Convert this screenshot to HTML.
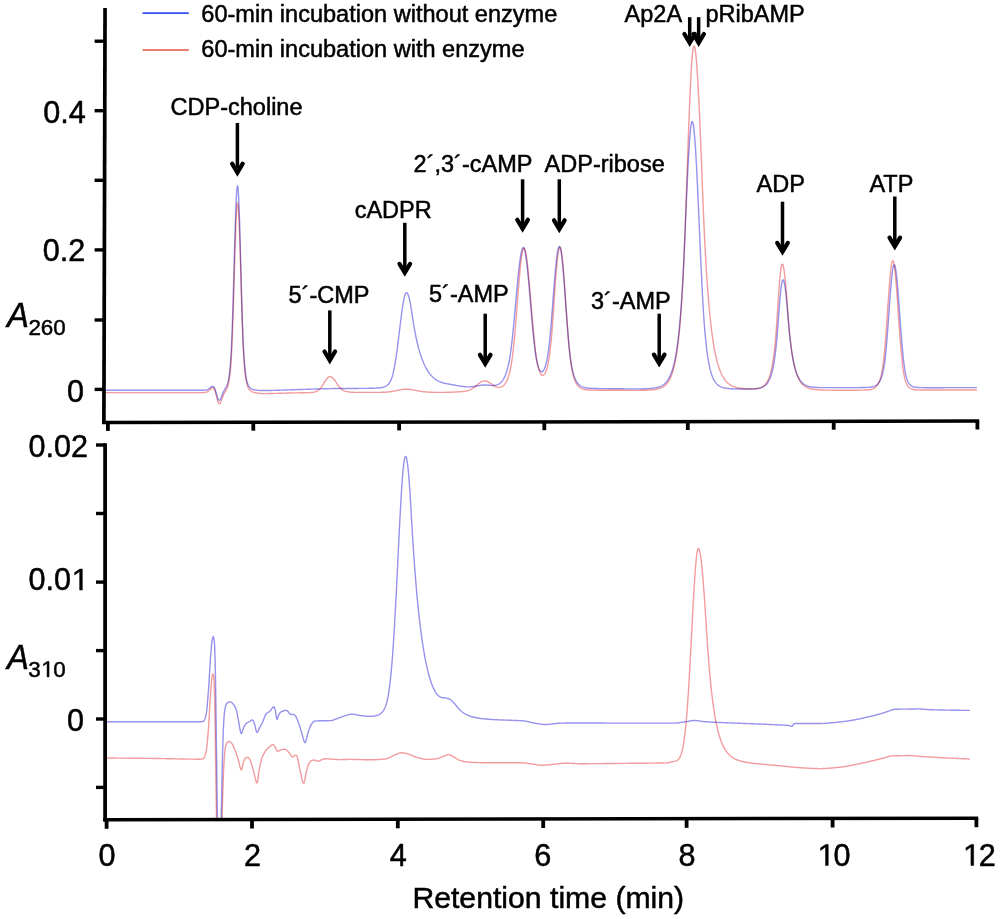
<!DOCTYPE html>
<html lang="en">
<head>
<meta charset="utf-8">
<title>HPLC chromatogram</title>
<style>
html,body{margin:0;padding:0;background:#ffffff;}
body{width:1000px;height:919px;overflow:hidden;font-family:"Liberation Sans",sans-serif;}
svg{display:block;}
</style>
</head>
<body>
<svg width="1000" height="919" viewBox="0 0 1000 919">
<rect x="0" y="0" width="1000" height="919" fill="#ffffff"/>
<defs><clipPath id="cb"><rect x="100" y="430" width="900" height="388.2"/></clipPath></defs>
<g fill="none" stroke-linejoin="round" stroke-linecap="round" stroke-width="1.4">
<path style="mix-blend-mode:multiply" stroke="#f39c9e" d="M105.50 392.60L106.00 392.60L106.50 392.60L107.00 392.60L107.50 392.60L108.00 392.60L108.50 392.60L109.00 392.60L109.50 392.60L110.00 392.60L110.50 392.60L111.00 392.60L111.50 392.60L112.00 392.60L112.50 392.60L113.00 392.60L113.50 392.60L114.00 392.60L114.50 392.60L115.00 392.60L115.50 392.60L116.00 392.60L116.50 392.60L117.00 392.60L117.50 392.60L118.00 392.60L118.50 392.60L119.00 392.60L119.50 392.60L120.00 392.60L120.50 392.60L121.00 392.60L121.50 392.60L122.00 392.60L122.50 392.60L123.00 392.60L123.50 392.60L124.00 392.60L124.50 392.60L125.00 392.60L125.50 392.60L126.00 392.60L126.50 392.60L127.00 392.60L127.50 392.60L128.00 392.60L128.50 392.60L129.00 392.60L129.50 392.60L130.00 392.60L130.50 392.60L131.00 392.60L131.50 392.60L132.00 392.60L132.50 392.60L133.00 392.60L133.50 392.60L134.00 392.60L134.50 392.60L135.00 392.60L135.50 392.60L136.00 392.60L136.50 392.60L137.00 392.60L137.50 392.60L138.00 392.60L138.50 392.60L139.00 392.60L139.50 392.60L140.00 392.60L140.50 392.60L141.00 392.60L141.50 392.60L142.00 392.60L142.50 392.60L143.00 392.60L143.50 392.60L144.00 392.60L144.50 392.60L145.00 392.60L145.50 392.60L146.00 392.60L146.50 392.60L147.00 392.60L147.50 392.60L148.00 392.60L148.50 392.60L149.00 392.60L149.50 392.60L150.00 392.60L150.50 392.60L151.00 392.60L151.50 392.60L152.00 392.60L152.50 392.60L153.00 392.60L153.50 392.60L154.00 392.60L154.50 392.60L155.00 392.60L155.50 392.60L156.00 392.60L156.50 392.60L157.00 392.60L157.50 392.60L158.00 392.60L158.50 392.60L159.00 392.60L159.50 392.60L160.00 392.60L160.50 392.60L161.00 392.60L161.50 392.60L162.00 392.60L162.50 392.60L163.00 392.60L163.50 392.60L164.00 392.60L164.50 392.60L165.00 392.60L165.50 392.60L166.00 392.60L166.50 392.60L167.00 392.60L167.50 392.60L168.00 392.60L168.50 392.60L169.00 392.60L169.50 392.60L170.00 392.60L170.50 392.60L171.00 392.60L171.50 392.60L172.00 392.60L172.50 392.60L173.00 392.60L173.50 392.60L174.00 392.60L174.50 392.60L175.00 392.60L175.50 392.60L176.00 392.60L176.50 392.60L177.00 392.60L177.50 392.60L178.00 392.60L178.50 392.60L179.00 392.60L179.50 392.60L180.00 392.60L180.50 392.60L181.00 392.60L181.50 392.60L182.00 392.60L182.50 392.60L183.00 392.60L183.50 392.60L184.00 392.60L184.50 392.60L185.00 392.60L185.50 392.60L186.00 392.60L186.50 392.60L187.00 392.60L187.50 392.60L188.00 392.60L188.50 392.60L189.00 392.60L189.50 392.60L190.00 392.60L190.50 392.60L191.00 392.60L191.50 392.60L192.00 392.60L192.50 392.60L193.00 392.60L193.50 392.60L194.00 392.60L194.50 392.60L195.00 392.60L195.50 392.60L196.00 392.60L196.50 392.60L197.00 392.60L197.50 392.60L198.00 392.60L198.50 392.60L199.00 392.60L199.50 392.60L200.00 392.60L200.50 392.60L201.00 392.60L201.50 392.60L202.00 392.60L202.50 392.60L203.00 392.59L203.50 392.58L204.00 392.56L204.50 392.53L205.00 392.49L205.50 392.42L206.00 392.32L206.50 392.18L207.00 391.99L207.50 391.74L208.00 391.42L208.50 391.04L209.00 390.59L209.50 390.09L210.00 389.56L210.50 389.02L211.00 388.50L211.50 388.06L212.00 387.74L212.50 387.57L213.00 387.61L213.50 387.92L214.00 388.56L214.50 389.54L215.00 390.87L215.50 392.49L216.00 394.36L216.50 396.36L217.00 398.37L217.50 400.24L218.00 401.84L218.50 403.01L219.00 403.66L219.50 403.76L220.00 403.39L220.50 402.60L221.00 401.49L221.50 400.18L222.00 398.77L222.50 397.36L223.00 396.03L223.50 394.82L224.00 393.75L224.50 392.80L225.00 391.94L225.50 391.11L226.00 390.27L226.50 389.34L227.00 388.27L227.50 386.97L228.00 385.37L228.50 383.37L229.00 380.85L229.50 377.67L230.00 373.66L230.50 368.58L231.00 362.15L231.50 354.02L232.00 343.74L232.50 331.04L233.00 316.64L233.50 300.88L234.00 284.23L234.50 267.30L235.00 250.84L235.50 235.66L236.00 222.56L236.50 212.33L237.00 205.56L237.50 202.69L238.00 203.99L238.50 209.52L239.00 218.93L239.50 231.58L240.00 246.70L240.50 263.40L241.00 280.78L241.50 298.01L242.00 314.39L242.50 329.40L243.00 342.21L243.50 352.42L244.00 360.55L244.50 367.03L245.00 372.19L245.50 376.30L246.00 379.57L246.50 382.18L247.00 384.26L247.50 385.91L248.00 387.23L248.50 388.28L249.00 389.11L249.50 389.78L250.00 390.31L250.50 390.74L251.00 391.10L251.50 391.40L252.00 391.65L252.50 391.86L253.00 392.05L253.50 392.22L254.00 392.37L254.50 392.51L255.00 392.64L255.50 392.75L256.00 392.86L256.50 392.97L257.00 393.06L257.50 393.15L258.00 393.23L258.50 393.31L259.00 393.38L259.50 393.44L260.00 393.49L260.50 393.53L261.00 393.56L261.50 393.58L262.00 393.59L262.50 393.59L263.00 393.59L263.50 393.59L264.00 393.59L264.50 393.59L265.00 393.59L265.50 393.58L266.00 393.58L266.50 393.57L267.00 393.57L267.50 393.56L268.00 393.55L268.50 393.54L269.00 393.54L269.50 393.53L270.00 393.52L270.50 393.51L271.00 393.50L271.50 393.49L272.00 393.48L272.50 393.47L273.00 393.46L273.50 393.44L274.00 393.43L274.50 393.42L275.00 393.41L275.50 393.39L276.00 393.38L276.50 393.37L277.00 393.35L277.50 393.34L278.00 393.33L278.50 393.31L279.00 393.30L279.50 393.28L280.00 393.27L280.50 393.25L281.00 393.24L281.50 393.22L282.00 393.21L282.50 393.19L283.00 393.18L283.50 393.16L284.00 393.15L284.50 393.13L285.00 393.12L285.50 393.11L286.00 393.09L286.50 393.08L287.00 393.06L287.50 393.05L288.00 393.03L288.50 393.02L289.00 393.01L289.50 392.99L290.00 392.98L290.50 392.97L291.00 392.96L291.50 392.94L292.00 392.93L292.50 392.92L293.00 392.91L293.50 392.90L294.00 392.89L294.50 392.88L295.00 392.87L295.50 392.86L296.00 392.85L296.50 392.84L297.00 392.83L297.50 392.83L298.00 392.82L298.50 392.81L299.00 392.81L299.50 392.80L300.00 392.79L300.50 392.79L301.00 392.78L301.50 392.78L302.00 392.77L302.50 392.77L303.00 392.76L303.50 392.76L304.00 392.75L304.50 392.74L305.00 392.73L305.50 392.73L306.00 392.72L306.50 392.71L307.00 392.70L307.50 392.68L308.00 392.67L308.50 392.65L309.00 392.63L309.50 392.61L310.00 392.58L310.50 392.55L311.00 392.52L311.50 392.48L312.00 392.43L312.50 392.37L313.00 392.31L313.50 392.23L314.00 392.14L314.50 392.04L315.00 391.91L315.50 391.77L316.00 391.59L316.50 391.39L317.00 391.15L317.50 390.86L318.00 390.53L318.50 390.14L319.00 389.71L319.50 389.23L320.00 388.70L320.50 388.12L321.00 387.49L321.50 386.82L322.00 386.10L322.50 385.35L323.00 384.57L323.50 383.78L324.00 382.97L324.50 382.16L325.00 381.36L325.50 380.59L326.00 379.85L326.50 379.16L327.00 378.54L327.50 377.99L328.00 377.52L328.50 377.15L329.00 376.87L329.50 376.70L330.00 376.65L330.50 376.69L331.00 376.83L331.50 377.06L332.00 377.38L332.50 377.78L333.00 378.25L333.50 378.79L334.00 379.39L334.50 380.04L335.00 380.72L335.50 381.44L336.00 382.17L336.50 382.91L337.00 383.66L337.50 384.39L338.00 385.11L338.50 385.80L339.00 386.47L339.50 387.10L340.00 387.70L340.50 388.26L341.00 388.76L341.50 389.20L342.00 389.59L342.50 389.93L343.00 390.24L343.50 390.50L344.00 390.74L344.50 390.95L345.00 391.13L345.50 391.30L346.00 391.44L346.50 391.56L347.00 391.68L347.50 391.77L348.00 391.86L348.50 391.93L349.00 392.00L349.50 392.06L350.00 392.11L350.50 392.15L351.00 392.19L351.50 392.23L352.00 392.25L352.50 392.28L353.00 392.30L353.50 392.32L354.00 392.34L354.50 392.35L355.00 392.36L355.50 392.37L356.00 392.38L356.50 392.39L357.00 392.40L357.50 392.40L358.00 392.40L358.50 392.41L359.00 392.41L359.50 392.41L360.00 392.41L360.50 392.41L361.00 392.41L361.50 392.41L362.00 392.41L362.50 392.41L363.00 392.41L363.50 392.41L364.00 392.41L364.50 392.41L365.00 392.41L365.50 392.41L366.00 392.41L366.50 392.40L367.00 392.40L367.50 392.40L368.00 392.40L368.50 392.40L369.00 392.40L369.50 392.40L370.00 392.40L370.50 392.40L371.00 392.40L371.50 392.40L372.00 392.40L372.50 392.40L373.00 392.39L373.50 392.39L374.00 392.39L374.50 392.39L375.00 392.39L375.50 392.39L376.00 392.39L376.50 392.38L377.00 392.38L377.50 392.38L378.00 392.37L378.50 392.37L379.00 392.36L379.50 392.36L380.00 392.35L380.50 392.34L381.00 392.33L381.50 392.32L382.00 392.31L382.50 392.29L383.00 392.28L383.50 392.26L384.00 392.24L384.50 392.22L385.00 392.19L385.50 392.16L386.00 392.13L386.50 392.09L387.00 392.06L387.50 392.01L388.00 391.97L388.50 391.92L389.00 391.86L389.50 391.80L390.00 391.74L390.50 391.67L391.00 391.60L391.50 391.53L392.00 391.45L392.50 391.36L393.00 391.27L393.50 391.18L394.00 391.08L394.50 390.99L395.00 390.88L395.50 390.78L396.00 390.67L396.50 390.57L397.00 390.46L397.50 390.35L398.00 390.24L398.50 390.14L399.00 390.04L399.50 389.93L400.00 389.84L400.50 389.75L401.00 389.66L401.50 389.58L402.00 389.50L402.50 389.43L403.00 389.37L403.50 389.32L404.00 389.28L404.50 389.24L405.00 389.22L405.50 389.20L406.00 389.20L406.50 389.20L407.00 389.22L407.50 389.24L408.00 389.26L408.50 389.30L409.00 389.34L409.50 389.39L410.00 389.45L410.50 389.51L411.00 389.58L411.50 389.65L412.00 389.73L412.50 389.81L413.00 389.90L413.50 389.98L414.00 390.08L414.50 390.17L415.00 390.27L415.50 390.36L416.00 390.46L416.50 390.56L417.00 390.65L417.50 390.75L418.00 390.84L418.50 390.93L419.00 391.03L419.50 391.11L420.00 391.20L420.50 391.28L421.00 391.36L421.50 391.44L422.00 391.51L422.50 391.58L423.00 391.65L423.50 391.71L424.00 391.77L424.50 391.82L425.00 391.87L425.50 391.92L426.00 391.97L426.50 392.01L427.00 392.05L427.50 392.08L428.00 392.12L428.50 392.15L429.00 392.17L429.50 392.20L430.00 392.22L430.50 392.24L431.00 392.26L431.50 392.28L432.00 392.29L432.50 392.30L433.00 392.32L433.50 392.33L434.00 392.34L434.50 392.34L435.00 392.35L435.50 392.36L436.00 392.36L436.50 392.37L437.00 392.37L437.50 392.38L438.00 392.38L438.50 392.38L439.00 392.39L439.50 392.39L440.00 392.39L440.50 392.39L441.00 392.39L441.50 392.39L442.00 392.39L442.50 392.38L443.00 392.38L443.50 392.37L444.00 392.37L444.50 392.36L445.00 392.35L445.50 392.34L446.00 392.33L446.50 392.32L447.00 392.31L447.50 392.30L448.00 392.29L448.50 392.27L449.00 392.26L449.50 392.24L450.00 392.23L450.50 392.21L451.00 392.20L451.50 392.18L452.00 392.16L452.50 392.14L453.00 392.12L453.50 392.10L454.00 392.08L454.50 392.06L455.00 392.04L455.50 392.02L456.00 391.99L456.50 391.97L457.00 391.94L457.50 391.91L458.00 391.89L458.50 391.86L459.00 391.83L459.50 391.79L460.00 391.76L460.50 391.72L461.00 391.69L461.50 391.64L462.00 391.60L462.50 391.55L463.00 391.50L463.50 391.45L464.00 391.38L464.50 391.32L465.00 391.25L465.50 391.17L466.00 391.08L466.50 390.98L467.00 390.87L467.50 390.75L468.00 390.61L468.50 390.45L469.00 390.28L469.50 390.09L470.00 389.87L470.50 389.64L471.00 389.39L471.50 389.12L472.00 388.82L472.50 388.51L473.00 388.18L473.50 387.83L474.00 387.46L474.50 387.08L475.00 386.68L475.50 386.27L476.00 385.85L476.50 385.43L477.00 385.00L477.50 384.58L478.00 384.16L478.50 383.75L479.00 383.35L479.50 382.97L480.00 382.61L480.50 382.27L481.00 381.97L481.50 381.69L482.00 381.45L482.50 381.25L483.00 381.09L483.50 380.97L484.00 380.90L484.50 380.87L485.00 380.88L485.50 380.93L486.00 381.03L486.50 381.17L487.00 381.34L487.50 381.55L488.00 381.80L488.50 382.07L489.00 382.36L489.50 382.68L490.00 383.01L490.50 383.35L491.00 383.70L491.50 384.05L492.00 384.41L492.50 384.75L493.00 385.09L493.50 385.42L494.00 385.73L494.50 386.02L495.00 386.28L495.50 386.53L496.00 386.74L496.50 386.93L497.00 387.09L497.50 387.22L498.00 387.31L498.50 387.36L499.00 387.38L499.50 387.36L500.00 387.30L500.50 387.19L501.00 387.03L501.50 386.83L502.00 386.57L502.50 386.27L503.00 385.91L503.50 385.48L504.00 385.00L504.50 384.44L505.00 383.80L505.50 383.08L506.00 382.27L506.50 381.35L507.00 380.32L507.50 379.15L508.00 377.85L508.50 376.39L509.00 374.75L509.50 372.91L510.00 370.85L510.50 368.55L511.00 365.97L511.50 363.09L512.00 359.86L512.50 356.25L513.00 352.20L513.50 347.68L514.00 342.64L514.50 337.22L515.00 331.52L515.50 325.56L516.00 319.40L516.50 313.09L517.00 306.68L517.50 300.24L518.00 293.85L518.50 287.58L519.00 281.50L519.50 275.71L520.00 270.28L520.50 265.29L521.00 260.82L521.50 256.93L522.00 253.69L522.50 251.14L523.00 249.34L523.50 248.30L524.00 248.05L524.50 248.52L525.00 249.69L525.50 251.54L526.00 254.04L526.50 257.15L527.00 260.83L527.50 265.03L528.00 269.68L528.50 274.73L529.00 280.10L529.50 285.73L530.00 291.56L530.50 297.50L531.00 303.50L531.50 309.50L532.00 315.43L532.50 321.24L533.00 326.88L533.50 332.32L534.00 337.50L534.50 342.42L535.00 347.03L535.50 351.31L536.00 355.12L536.50 358.48L537.00 361.44L537.50 364.04L538.00 366.30L538.50 368.26L539.00 369.94L539.50 371.36L540.00 372.55L540.50 373.51L541.00 374.26L541.50 374.81L542.00 375.17L542.50 375.34L543.00 375.32L543.50 375.12L544.00 374.73L544.50 374.14L545.00 373.36L545.50 372.37L546.00 371.16L546.50 369.72L547.00 368.03L547.50 366.06L548.00 363.80L548.50 361.22L549.00 358.28L549.50 354.95L550.00 351.20L550.50 346.96L551.00 342.20L551.50 336.86L552.00 330.87L552.50 324.22L553.00 317.25L553.50 310.09L554.00 302.81L554.50 295.53L555.00 288.35L555.50 281.39L556.00 274.77L556.50 268.62L557.00 263.04L557.50 258.14L558.00 254.04L558.50 250.80L559.00 248.50L559.50 247.19L560.00 246.90L560.50 247.63L561.00 249.38L561.50 252.09L562.00 255.72L562.50 260.19L563.00 265.41L563.50 271.28L564.00 277.68L564.50 284.50L565.00 291.62L565.50 298.91L566.00 306.27L566.50 313.59L567.00 320.77L567.50 327.73L568.00 334.39L568.50 340.70L569.00 346.57L569.50 351.78L570.00 356.36L570.50 360.40L571.00 363.96L571.50 367.09L572.00 369.85L572.50 372.28L573.00 374.42L573.50 376.31L574.00 377.96L574.50 379.43L575.00 380.71L575.50 381.85L576.00 382.84L576.50 383.72L577.00 384.49L577.50 385.18L578.00 385.78L578.50 386.30L579.00 386.77L579.50 387.18L580.00 387.54L580.50 387.86L581.00 388.14L581.50 388.38L582.00 388.60L582.50 388.79L583.00 388.96L583.50 389.11L584.00 389.24L584.50 389.35L585.00 389.45L585.50 389.54L586.00 389.62L586.50 389.69L587.00 389.75L587.50 389.80L588.00 389.85L588.50 389.89L589.00 389.93L589.50 389.96L590.00 389.99L590.50 390.02L591.00 390.04L591.50 390.06L592.00 390.07L592.50 390.09L593.00 390.10L593.50 390.12L594.00 390.13L594.50 390.14L595.00 390.15L595.50 390.15L596.00 390.16L596.50 390.17L597.00 390.17L597.50 390.18L598.00 390.18L598.50 390.19L599.00 390.19L599.50 390.19L600.00 390.20L600.50 390.20L601.00 390.20L601.50 390.21L602.00 390.21L602.50 390.21L603.00 390.22L603.50 390.22L604.00 390.22L604.50 390.22L605.00 390.23L605.50 390.23L606.00 390.23L606.50 390.23L607.00 390.24L607.50 390.24L608.00 390.24L608.50 390.24L609.00 390.25L609.50 390.25L610.00 390.25L610.50 390.25L611.00 390.25L611.50 390.26L612.00 390.26L612.50 390.26L613.00 390.26L613.50 390.27L614.00 390.27L614.50 390.27L615.00 390.27L615.50 390.28L616.00 390.28L616.50 390.28L617.00 390.28L617.50 390.29L618.00 390.29L618.50 390.29L619.00 390.29L619.50 390.30L620.00 390.30L620.50 390.30L621.00 390.30L621.50 390.30L622.00 390.31L622.50 390.31L623.00 390.31L623.50 390.31L624.00 390.32L624.50 390.32L625.00 390.32L625.50 390.32L626.00 390.32L626.50 390.33L627.00 390.33L627.50 390.33L628.00 390.33L628.50 390.33L629.00 390.33L629.50 390.34L630.00 390.34L630.50 390.34L631.00 390.34L631.50 390.34L632.00 390.34L632.50 390.34L633.00 390.34L633.50 390.34L634.00 390.34L634.50 390.34L635.00 390.34L635.50 390.34L636.00 390.34L636.50 390.34L637.00 390.34L637.50 390.34L638.00 390.33L638.50 390.33L639.00 390.33L639.50 390.33L640.00 390.32L640.50 390.32L641.00 390.31L641.50 390.31L642.00 390.30L642.50 390.29L643.00 390.29L643.50 390.28L644.00 390.27L644.50 390.26L645.00 390.24L645.50 390.23L646.00 390.22L646.50 390.20L647.00 390.18L647.50 390.16L648.00 390.14L648.50 390.12L649.00 390.10L649.50 390.07L650.00 390.04L650.50 390.01L651.00 389.97L651.50 389.93L652.00 389.89L652.50 389.84L653.00 389.79L653.50 389.73L654.00 389.67L654.50 389.61L655.00 389.53L655.50 389.45L656.00 389.37L656.50 389.27L657.00 389.17L657.50 389.06L658.00 388.94L658.50 388.80L659.00 388.66L659.50 388.50L660.00 388.33L660.50 388.14L661.00 387.93L661.50 387.71L662.00 387.46L662.50 387.20L663.00 386.91L663.50 386.59L664.00 386.25L664.50 385.87L665.00 385.46L665.50 385.02L666.00 384.53L666.50 384.00L667.00 383.42L667.50 382.79L668.00 382.10L668.50 381.35L669.00 380.53L669.50 379.64L670.00 378.67L670.50 377.61L671.00 376.45L671.50 375.19L672.00 373.82L672.50 372.32L673.00 370.69L673.50 368.90L674.00 366.96L674.50 364.84L675.00 362.53L675.50 360.01L676.00 357.26L676.50 354.26L677.00 350.99L677.50 347.42L678.00 343.53L678.50 339.29L679.00 334.67L679.50 329.62L680.00 324.12L680.50 318.12L681.00 311.58L681.50 304.44L682.00 296.66L682.50 288.17L683.00 278.91L683.50 268.81L684.00 257.80L684.50 245.79L685.00 232.69L685.50 218.81L686.00 204.61L686.50 190.21L687.00 175.72L687.50 161.29L688.00 147.06L688.50 133.19L689.00 119.84L689.50 107.17L690.00 95.32L690.50 84.46L691.00 74.72L691.50 66.23L692.00 59.12L692.50 53.48L693.00 49.40L693.50 46.92L694.00 46.08L694.50 46.72L695.00 48.62L695.50 51.77L696.00 56.14L696.50 61.68L697.00 68.32L697.50 75.99L698.00 84.62L698.50 94.12L699.00 104.38L699.50 115.31L700.00 126.81L700.50 138.75L701.00 151.05L701.50 163.58L702.00 176.26L702.50 188.97L703.00 201.63L703.50 213.84L704.00 225.26L704.50 235.94L705.00 245.93L705.50 255.26L706.00 264.00L706.50 272.16L707.00 279.80L707.50 286.94L708.00 293.61L708.50 299.85L709.00 305.69L709.50 311.15L710.00 316.25L710.50 321.03L711.00 325.49L711.50 329.66L712.00 333.56L712.50 337.21L713.00 340.62L713.50 343.81L714.00 346.79L714.50 349.58L715.00 352.19L715.50 354.63L716.00 356.91L716.50 359.04L717.00 361.03L717.50 362.89L718.00 364.64L718.50 366.27L719.00 367.79L719.50 369.21L720.00 370.54L720.50 371.79L721.00 372.95L721.50 374.04L722.00 375.06L722.50 376.01L723.00 376.89L723.50 377.72L724.00 378.50L724.50 379.22L725.00 379.90L725.50 380.53L726.00 381.12L726.50 381.68L727.00 382.19L727.50 382.68L728.00 383.13L728.50 383.55L729.00 383.94L729.50 384.31L730.00 384.65L730.50 384.97L731.00 385.27L731.50 385.55L732.00 385.81L732.50 386.05L733.00 386.28L733.50 386.49L734.00 386.68L734.50 386.87L735.00 387.04L735.50 387.20L736.00 387.35L736.50 387.49L737.00 387.61L737.50 387.74L738.00 387.85L738.50 387.95L739.00 388.05L739.50 388.14L740.00 388.22L740.50 388.30L741.00 388.37L741.50 388.43L742.00 388.49L742.50 388.55L743.00 388.60L743.50 388.65L744.00 388.69L744.50 388.73L745.00 388.77L745.50 388.80L746.00 388.83L746.50 388.85L747.00 388.87L747.50 388.89L748.00 388.91L748.50 388.92L749.00 388.93L749.50 388.94L750.00 388.94L750.50 388.94L751.00 388.93L751.50 388.92L752.00 388.91L752.50 388.89L753.00 388.87L753.50 388.85L754.00 388.82L754.50 388.78L755.00 388.74L755.50 388.68L756.00 388.63L756.50 388.56L757.00 388.49L757.50 388.40L758.00 388.30L758.50 388.19L759.00 388.07L759.50 387.93L760.00 387.77L760.50 387.59L761.00 387.40L761.50 387.17L762.00 386.92L762.50 386.64L763.00 386.33L763.50 385.97L764.00 385.58L764.50 385.13L765.00 384.64L765.50 384.08L766.00 383.46L766.50 382.76L767.00 381.98L767.50 381.10L768.00 380.13L768.50 379.03L769.00 377.80L769.50 376.43L770.00 374.89L770.50 373.17L771.00 371.25L771.50 369.09L772.00 366.68L772.50 363.99L773.00 360.97L773.50 357.59L774.00 353.81L774.50 349.58L775.00 344.85L775.50 339.55L776.00 333.63L776.50 327.00L777.00 319.59L777.50 311.84L778.00 304.13L778.50 296.62L779.00 289.50L779.50 282.95L780.00 277.14L780.50 272.25L781.00 268.41L781.50 265.74L782.00 264.32L782.50 264.17L783.00 265.07L783.50 266.95L784.00 269.77L784.50 273.44L785.00 277.90L785.50 283.04L786.00 288.76L786.50 294.92L787.00 301.42L787.50 308.12L788.00 314.91L788.50 321.30L789.00 327.15L789.50 332.50L790.00 337.40L790.50 341.87L791.00 345.97L791.50 349.72L792.00 353.14L792.50 356.28L793.00 359.15L793.50 361.77L794.00 364.17L794.50 366.37L795.00 368.38L795.50 370.21L796.00 371.90L796.50 373.44L797.00 374.84L797.50 376.13L798.00 377.31L798.50 378.39L799.00 379.38L799.50 380.28L800.00 381.11L800.50 381.87L801.00 382.56L801.50 383.20L802.00 383.78L802.50 384.31L803.00 384.80L803.50 385.25L804.00 385.66L804.50 386.03L805.00 386.37L805.50 386.69L806.00 386.98L806.50 387.24L807.00 387.48L807.50 387.71L808.00 387.91L808.50 388.10L809.00 388.27L809.50 388.43L810.00 388.57L810.50 388.70L811.00 388.82L811.50 388.94L812.00 389.04L812.50 389.13L813.00 389.22L813.50 389.30L814.00 389.37L814.50 389.44L815.00 389.50L815.50 389.56L816.00 389.61L816.50 389.66L817.00 389.71L817.50 389.75L818.00 389.78L818.50 389.82L819.00 389.85L819.50 389.88L820.00 389.91L820.50 389.93L821.00 389.96L821.50 389.98L822.00 390.00L822.50 390.02L823.00 390.03L823.50 390.05L824.00 390.06L824.50 390.08L825.00 390.09L825.50 390.10L826.00 390.11L826.50 390.12L827.00 390.13L827.50 390.13L828.00 390.14L828.50 390.14L829.00 390.15L829.50 390.15L830.00 390.16L830.50 390.16L831.00 390.17L831.50 390.17L832.00 390.17L832.50 390.17L833.00 390.18L833.50 390.18L834.00 390.18L834.50 390.18L835.00 390.18L835.50 390.18L836.00 390.19L836.50 390.19L837.00 390.19L837.50 390.19L838.00 390.19L838.50 390.19L839.00 390.19L839.50 390.19L840.00 390.19L840.50 390.19L841.00 390.19L841.50 390.19L842.00 390.19L842.50 390.20L843.00 390.20L843.50 390.20L844.00 390.20L844.50 390.20L845.00 390.20L845.50 390.20L846.00 390.20L846.50 390.20L847.00 390.20L847.50 390.20L848.00 390.20L848.50 390.20L849.00 390.20L849.50 390.20L850.00 390.20L850.50 390.20L851.00 390.20L851.50 390.20L852.00 390.20L852.50 390.19L853.00 390.19L853.50 390.19L854.00 390.19L854.50 390.19L855.00 390.19L855.50 390.19L856.00 390.19L856.50 390.19L857.00 390.18L857.50 390.18L858.00 390.18L858.50 390.18L859.00 390.17L859.50 390.17L860.00 390.16L860.50 390.16L861.00 390.15L861.50 390.14L862.00 390.13L862.50 390.12L863.00 390.11L863.50 390.10L864.00 390.08L864.50 390.07L865.00 390.05L865.50 390.02L866.00 390.00L866.50 389.97L867.00 389.93L867.50 389.89L868.00 389.84L868.50 389.79L869.00 389.73L869.50 389.65L870.00 389.57L870.50 389.48L871.00 389.37L871.50 389.24L872.00 389.09L872.50 388.92L873.00 388.73L873.50 388.50L874.00 388.25L874.50 387.95L875.00 387.61L875.50 387.21L876.00 386.76L876.50 386.23L877.00 385.63L877.50 384.94L878.00 384.14L878.50 383.22L879.00 382.15L879.50 380.93L880.00 379.52L880.50 377.90L881.00 376.03L881.50 373.88L882.00 371.40L882.50 368.55L883.00 365.26L883.50 361.47L884.00 357.11L884.50 352.08L885.00 346.31L885.50 340.00L886.00 333.29L886.50 326.26L887.00 318.99L887.50 311.60L888.00 304.21L888.50 296.96L889.00 289.99L889.50 283.45L890.00 277.50L890.50 272.26L891.00 267.88L891.50 264.46L892.00 262.08L892.50 260.82L893.00 260.70L893.50 261.69L894.00 263.76L894.50 266.86L895.00 270.91L895.50 275.81L896.00 281.45L896.50 287.69L897.00 294.39L897.50 301.42L898.00 308.63L898.50 315.89L899.00 323.09L899.50 330.10L900.00 336.83L900.50 343.21L901.00 349.18L901.50 354.69L902.00 359.72L902.50 364.26L903.00 368.30L903.50 371.81L904.00 374.75L904.50 377.21L905.00 379.28L905.50 381.01L906.00 382.47L906.50 383.69L907.00 384.71L907.50 385.57L908.00 386.28L908.50 386.89L909.00 387.39L909.50 387.81L910.00 388.17L910.50 388.46L911.00 388.71L911.50 388.92L912.00 389.10L912.50 389.24L913.00 389.37L913.50 389.47L914.00 389.55L914.50 389.63L915.00 389.69L915.50 389.74L916.00 389.78L916.50 389.81L917.00 389.84L917.50 389.87L918.00 389.89L918.50 389.91L919.00 389.92L919.50 389.93L920.00 389.95L920.50 389.95L921.00 389.96L921.50 389.97L922.00 389.97L922.50 389.98L923.00 389.98L923.50 389.98L924.00 389.99L924.50 389.99L925.00 389.99L925.50 389.99L926.00 389.99L926.50 389.99L927.00 390.00L927.50 390.00L928.00 390.00L928.50 390.00L929.00 390.00L929.50 390.00L930.00 390.00L930.50 390.00L931.00 390.00L931.50 390.00L932.00 390.00L932.50 390.00L933.00 390.00L933.50 390.00L934.00 390.00L934.50 390.00L935.00 390.00L935.50 390.00L936.00 390.00L936.50 390.00L937.00 390.00L937.50 390.00L938.00 390.00L938.50 390.00L939.00 390.00L939.50 390.00L940.00 390.00L940.50 390.00L941.00 390.00L941.50 390.00L942.00 390.00L942.50 390.00L943.00 390.00L943.50 390.00L944.00 390.00L944.50 390.00L945.00 390.00L945.50 390.00L946.00 390.00L946.50 390.00L947.00 390.00L947.50 390.00L948.00 390.00L948.50 390.00L949.00 390.00L949.50 390.00L950.00 390.00L950.50 390.00L951.00 390.00L951.50 390.00L952.00 390.00L952.50 390.00L953.00 390.00L953.50 390.00L954.00 390.00L954.50 390.00L955.00 390.00L955.50 390.00L956.00 390.00L956.50 390.00L957.00 390.00L957.50 390.00L958.00 390.00L958.50 390.00L959.00 390.00L959.50 390.00L960.00 390.00L960.50 390.00L961.00 390.00L961.50 390.00L962.00 390.00L962.50 390.00L963.00 390.00L963.50 390.00L964.00 390.00L964.50 390.00L965.00 390.00L965.50 390.00L966.00 390.00L966.50 390.00L967.00 390.00L967.50 390.00L968.00 390.00L968.50 390.00L969.00 390.00L969.50 390.00L970.00 390.00L970.50 390.00L971.00 390.00L971.50 390.00L972.00 390.00L972.50 390.00L973.00 390.00L973.50 390.00L974.00 390.00L974.50 390.00L975.00 390.00L975.50 390.00L976.00 390.00L976.50 390.00"/>
<path style="mix-blend-mode:multiply" stroke="#9692ee" d="M105.50 390.29L106.00 390.29L106.50 390.29L107.00 390.29L107.50 390.29L108.00 390.29L108.50 390.29L109.00 390.29L109.50 390.29L110.00 390.29L110.50 390.29L111.00 390.29L111.50 390.29L112.00 390.29L112.50 390.29L113.00 390.29L113.50 390.29L114.00 390.29L114.50 390.29L115.00 390.29L115.50 390.29L116.00 390.29L116.50 390.29L117.00 390.29L117.50 390.29L118.00 390.29L118.50 390.29L119.00 390.29L119.50 390.29L120.00 390.29L120.50 390.29L121.00 390.29L121.50 390.29L122.00 390.29L122.50 390.29L123.00 390.29L123.50 390.29L124.00 390.29L124.50 390.29L125.00 390.29L125.50 390.29L126.00 390.29L126.50 390.29L127.00 390.29L127.50 390.29L128.00 390.29L128.50 390.29L129.00 390.29L129.50 390.29L130.00 390.29L130.50 390.29L131.00 390.29L131.50 390.29L132.00 390.29L132.50 390.29L133.00 390.29L133.50 390.29L134.00 390.29L134.50 390.29L135.00 390.29L135.50 390.29L136.00 390.29L136.50 390.29L137.00 390.29L137.50 390.29L138.00 390.29L138.50 390.29L139.00 390.29L139.50 390.29L140.00 390.28L140.50 390.28L141.00 390.28L141.50 390.28L142.00 390.28L142.50 390.28L143.00 390.28L143.50 390.28L144.00 390.28L144.50 390.28L145.00 390.28L145.50 390.28L146.00 390.28L146.50 390.28L147.00 390.28L147.50 390.28L148.00 390.28L148.50 390.28L149.00 390.28L149.50 390.28L150.00 390.28L150.50 390.28L151.00 390.28L151.50 390.28L152.00 390.28L152.50 390.28L153.00 390.28L153.50 390.28L154.00 390.28L154.50 390.28L155.00 390.28L155.50 390.28L156.00 390.28L156.50 390.28L157.00 390.28L157.50 390.28L158.00 390.28L158.50 390.28L159.00 390.28L159.50 390.28L160.00 390.28L160.50 390.28L161.00 390.28L161.50 390.28L162.00 390.28L162.50 390.28L163.00 390.28L163.50 390.28L164.00 390.28L164.50 390.28L165.00 390.28L165.50 390.28L166.00 390.28L166.50 390.28L167.00 390.28L167.50 390.28L168.00 390.28L168.50 390.28L169.00 390.28L169.50 390.28L170.00 390.28L170.50 390.28L171.00 390.28L171.50 390.28L172.00 390.28L172.50 390.28L173.00 390.28L173.50 390.28L174.00 390.28L174.50 390.28L175.00 390.28L175.50 390.28L176.00 390.28L176.50 390.28L177.00 390.28L177.50 390.28L178.00 390.28L178.50 390.28L179.00 390.28L179.50 390.28L180.00 390.28L180.50 390.28L181.00 390.28L181.50 390.28L182.00 390.28L182.50 390.28L183.00 390.28L183.50 390.28L184.00 390.28L184.50 390.28L185.00 390.28L185.50 390.28L186.00 390.28L186.50 390.28L187.00 390.28L187.50 390.28L188.00 390.28L188.50 390.28L189.00 390.28L189.50 390.28L190.00 390.28L190.50 390.28L191.00 390.28L191.50 390.28L192.00 390.28L192.50 390.28L193.00 390.28L193.50 390.28L194.00 390.28L194.50 390.28L195.00 390.28L195.50 390.28L196.00 390.28L196.50 390.28L197.00 390.28L197.50 390.28L198.00 390.28L198.50 390.28L199.00 390.28L199.50 390.28L200.00 390.27L200.50 390.27L201.00 390.27L201.50 390.27L202.00 390.27L202.50 390.27L203.00 390.26L203.50 390.25L204.00 390.24L204.50 390.21L205.00 390.17L205.50 390.11L206.00 390.03L206.50 389.92L207.00 389.76L207.50 389.57L208.00 389.32L208.50 389.01L209.00 388.66L209.50 388.27L210.00 387.84L210.50 387.42L211.00 387.02L211.50 386.68L212.00 386.43L212.50 386.32L213.00 386.39L213.50 386.68L214.00 387.26L214.50 388.13L215.00 389.31L215.50 390.75L216.00 392.39L216.50 394.15L217.00 395.91L217.50 397.52L218.00 398.87L218.50 399.81L219.00 400.28L219.50 400.26L220.00 399.82L220.50 399.02L221.00 397.95L221.50 396.71L222.00 395.39L222.50 394.09L223.00 392.87L223.50 391.76L224.00 390.76L224.50 389.86L225.00 389.02L225.50 388.18L226.00 387.29L226.50 386.30L227.00 385.11L227.50 383.67L228.00 381.88L228.50 379.63L229.00 376.79L229.50 373.21L230.00 368.68L230.50 362.95L231.00 355.71L231.50 346.54L232.00 334.94L232.50 320.86L233.00 305.03L233.50 287.83L234.00 269.80L234.50 251.62L235.00 234.11L235.50 218.15L236.00 204.61L236.50 194.30L237.00 187.83L237.50 185.62L238.00 187.95L238.50 194.78L239.00 205.67L239.50 219.89L240.00 236.59L240.50 254.79L241.00 273.53L241.50 291.95L242.00 309.33L242.50 325.13L243.00 338.32L243.50 348.82L244.00 357.19L244.50 363.85L245.00 369.16L245.50 373.39L246.00 376.76L246.50 379.44L247.00 381.58L247.50 383.28L248.00 384.64L248.50 385.72L249.00 386.58L249.50 387.26L250.00 387.81L250.50 388.25L251.00 388.61L251.50 388.90L252.00 389.14L252.50 389.33L253.00 389.50L253.50 389.64L254.00 389.76L254.50 389.87L255.00 389.96L255.50 390.04L256.00 390.11L256.50 390.18L257.00 390.24L257.50 390.29L258.00 390.34L258.50 390.38L259.00 390.42L259.50 390.46L260.00 390.48L260.50 390.51L261.00 390.52L261.50 390.54L262.00 390.54L262.50 390.54L263.00 390.54L263.50 390.54L264.00 390.54L264.50 390.54L265.00 390.53L265.50 390.53L266.00 390.52L266.50 390.52L267.00 390.51L267.50 390.51L268.00 390.50L268.50 390.49L269.00 390.48L269.50 390.47L270.00 390.46L270.50 390.45L271.00 390.44L271.50 390.43L272.00 390.42L272.50 390.41L273.00 390.39L273.50 390.38L274.00 390.37L274.50 390.35L275.00 390.34L275.50 390.33L276.00 390.31L276.50 390.30L277.00 390.28L277.50 390.27L278.00 390.25L278.50 390.23L279.00 390.22L279.50 390.20L280.00 390.18L280.50 390.17L281.00 390.15L281.50 390.13L282.00 390.12L282.50 390.10L283.00 390.08L283.50 390.06L284.00 390.04L284.50 390.03L285.00 390.01L285.50 389.99L286.00 389.97L286.50 389.95L287.00 389.94L287.50 389.92L288.00 389.90L288.50 389.88L289.00 389.86L289.50 389.85L290.00 389.83L290.50 389.81L291.00 389.79L291.50 389.78L292.00 389.76L292.50 389.74L293.00 389.72L293.50 389.71L294.00 389.69L294.50 389.67L295.00 389.66L295.50 389.64L296.00 389.63L296.50 389.61L297.00 389.60L297.50 389.58L298.00 389.57L298.50 389.55L299.00 389.54L299.50 389.52L300.00 389.51L300.50 389.50L301.00 389.49L301.50 389.47L302.00 389.46L302.50 389.44L303.00 389.43L303.50 389.42L304.00 389.40L304.50 389.39L305.00 389.37L305.50 389.36L306.00 389.34L306.50 389.33L307.00 389.31L307.50 389.30L308.00 389.28L308.50 389.26L309.00 389.25L309.50 389.23L310.00 389.22L310.50 389.20L311.00 389.19L311.50 389.17L312.00 389.15L312.50 389.14L313.00 389.12L313.50 389.10L314.00 389.09L314.50 389.07L315.00 389.06L315.50 389.04L316.00 389.02L316.50 389.01L317.00 388.99L317.50 388.98L318.00 388.96L318.50 388.95L319.00 388.93L319.50 388.92L320.00 388.90L320.50 388.88L321.00 388.87L321.50 388.85L322.00 388.84L322.50 388.83L323.00 388.81L323.50 388.80L324.00 388.78L324.50 388.77L325.00 388.76L325.50 388.74L326.00 388.73L326.50 388.72L327.00 388.70L327.50 388.69L328.00 388.68L328.50 388.67L329.00 388.66L329.50 388.65L330.00 388.64L330.50 388.62L331.00 388.61L331.50 388.60L332.00 388.60L332.50 388.59L333.00 388.58L333.50 388.57L334.00 388.56L334.50 388.55L335.00 388.55L335.50 388.54L336.00 388.53L336.50 388.53L337.00 388.52L337.50 388.52L338.00 388.51L338.50 388.51L339.00 388.50L339.50 388.50L340.00 388.50L340.50 388.49L341.00 388.49L341.50 388.49L342.00 388.49L342.50 388.49L343.00 388.48L343.50 388.48L344.00 388.48L344.50 388.48L345.00 388.48L345.50 388.47L346.00 388.47L346.50 388.47L347.00 388.47L347.50 388.47L348.00 388.47L348.50 388.46L349.00 388.46L349.50 388.46L350.00 388.46L350.50 388.46L351.00 388.46L351.50 388.45L352.00 388.45L352.50 388.45L353.00 388.45L353.50 388.45L354.00 388.45L354.50 388.44L355.00 388.44L355.50 388.44L356.00 388.44L356.50 388.43L357.00 388.43L357.50 388.43L358.00 388.43L358.50 388.42L359.00 388.42L359.50 388.42L360.00 388.41L360.50 388.41L361.00 388.41L361.50 388.40L362.00 388.40L362.50 388.40L363.00 388.39L363.50 388.39L364.00 388.38L364.50 388.38L365.00 388.37L365.50 388.37L366.00 388.36L366.50 388.35L367.00 388.35L367.50 388.34L368.00 388.33L368.50 388.32L369.00 388.32L369.50 388.31L370.00 388.30L370.50 388.29L371.00 388.28L371.50 388.26L372.00 388.25L372.50 388.24L373.00 388.22L373.50 388.21L374.00 388.19L374.50 388.17L375.00 388.15L375.50 388.13L376.00 388.10L376.50 388.07L377.00 388.04L377.50 388.01L378.00 387.97L378.50 387.93L379.00 387.88L379.50 387.83L380.00 387.77L380.50 387.71L381.00 387.63L381.50 387.55L382.00 387.46L382.50 387.35L383.00 387.23L383.50 387.09L384.00 386.94L384.50 386.76L385.00 386.56L385.50 386.32L386.00 386.06L386.50 385.75L387.00 385.40L387.50 385.00L388.00 384.54L388.50 384.01L389.00 383.40L389.50 382.70L390.00 381.89L390.50 380.95L391.00 379.88L391.50 378.64L392.00 377.21L392.50 375.56L393.00 373.67L393.50 371.56L394.00 369.25L394.50 366.71L395.00 363.95L395.50 360.97L396.00 357.78L396.50 354.39L397.00 350.80L397.50 347.04L398.00 343.13L398.50 339.11L399.00 334.99L399.50 330.83L400.00 326.66L400.50 322.52L401.00 318.47L401.50 314.56L402.00 310.82L402.50 307.31L403.00 304.09L403.50 301.19L404.00 298.65L404.50 296.52L405.00 294.83L405.50 293.60L406.00 292.85L406.50 292.59L407.00 292.78L407.50 293.37L408.00 294.34L408.50 295.70L409.00 297.41L409.50 299.46L410.00 301.82L410.50 304.47L411.00 307.38L411.50 310.50L412.00 313.81L412.50 317.22L413.00 320.50L413.50 323.62L414.00 326.59L414.50 329.43L415.00 332.13L415.50 334.70L416.00 337.16L416.50 339.50L417.00 341.73L417.50 343.85L418.00 345.88L418.50 347.81L419.00 349.65L419.50 351.40L420.00 353.08L420.50 354.67L421.00 356.19L421.50 357.64L422.00 359.02L422.50 360.33L423.00 361.59L423.50 362.78L424.00 363.92L424.50 365.01L425.00 366.05L425.50 367.03L426.00 367.98L426.50 368.87L427.00 369.73L427.50 370.54L428.00 371.32L428.50 372.06L429.00 372.76L429.50 373.43L430.00 374.07L430.50 374.68L431.00 375.26L431.50 375.81L432.00 376.33L432.50 376.83L433.00 377.30L433.50 377.75L434.00 378.18L434.50 378.59L435.00 378.97L435.50 379.33L436.00 379.68L436.50 380.00L437.00 380.31L437.50 380.60L438.00 380.87L438.50 381.13L439.00 381.37L439.50 381.60L440.00 381.81L440.50 382.01L441.00 382.20L441.50 382.38L442.00 382.54L442.50 382.69L443.00 382.84L443.50 382.98L444.00 383.10L444.50 383.22L445.00 383.34L445.50 383.45L446.00 383.55L446.50 383.65L447.00 383.75L447.50 383.84L448.00 383.93L448.50 384.02L449.00 384.11L449.50 384.20L450.00 384.29L450.50 384.38L451.00 384.47L451.50 384.55L452.00 384.64L452.50 384.74L453.00 384.83L453.50 384.92L454.00 385.01L454.50 385.10L455.00 385.19L455.50 385.28L456.00 385.37L456.50 385.46L457.00 385.56L457.50 385.64L458.00 385.73L458.50 385.82L459.00 385.91L459.50 385.99L460.00 386.07L460.50 386.15L461.00 386.23L461.50 386.30L462.00 386.37L462.50 386.44L463.00 386.50L463.50 386.56L464.00 386.62L464.50 386.67L465.00 386.72L465.50 386.76L466.00 386.80L466.50 386.83L467.00 386.85L467.50 386.87L468.00 386.88L468.50 386.89L469.00 386.89L469.50 386.88L470.00 386.87L470.50 386.84L471.00 386.81L471.50 386.78L472.00 386.73L472.50 386.68L473.00 386.62L473.50 386.55L474.00 386.48L474.50 386.40L475.00 386.32L475.50 386.23L476.00 386.13L476.50 386.04L477.00 385.94L477.50 385.83L478.00 385.73L478.50 385.63L479.00 385.54L479.50 385.44L480.00 385.35L480.50 385.27L481.00 385.20L481.50 385.13L482.00 385.07L482.50 385.02L483.00 384.98L483.50 384.96L484.00 384.94L484.50 384.93L485.00 384.94L485.50 384.95L486.00 384.97L486.50 385.01L487.00 385.04L487.50 385.09L488.00 385.14L488.50 385.19L489.00 385.25L489.50 385.30L490.00 385.35L490.50 385.40L491.00 385.45L491.50 385.48L492.00 385.51L492.50 385.52L493.00 385.53L493.50 385.52L494.00 385.49L494.50 385.44L495.00 385.38L495.50 385.29L496.00 385.18L496.50 385.05L497.00 384.89L497.50 384.70L498.00 384.48L498.50 384.22L499.00 383.93L499.50 383.60L500.00 383.22L500.50 382.80L501.00 382.33L501.50 381.81L502.00 381.22L502.50 380.57L503.00 379.85L503.50 379.05L504.00 378.16L504.50 377.17L505.00 376.09L505.50 374.88L506.00 373.56L506.50 372.09L507.00 370.47L507.50 368.67L508.00 366.70L508.50 364.51L509.00 362.10L509.50 359.44L510.00 356.50L510.50 353.26L511.00 349.68L511.50 345.72L512.00 341.36L512.50 336.70L513.00 331.82L513.50 326.73L514.00 321.46L514.50 316.06L515.00 310.54L515.50 304.97L516.00 299.37L516.50 293.80L517.00 288.32L517.50 282.97L518.00 277.81L518.50 272.89L519.00 268.27L519.50 264.00L520.00 260.13L520.50 256.71L521.00 253.78L521.50 251.37L522.00 249.52L522.50 248.25L523.00 247.57L523.50 247.51L524.00 248.11L524.50 249.41L525.00 251.36L525.50 253.95L526.00 257.14L526.50 260.87L527.00 265.11L527.50 269.78L528.00 274.82L528.50 280.18L529.00 285.77L529.50 291.54L530.00 297.41L530.50 303.33L531.00 309.22L531.50 315.04L532.00 320.73L532.50 326.24L533.00 331.54L533.50 336.58L534.00 341.35L534.50 345.81L535.00 349.91L535.50 353.54L536.00 356.74L536.50 359.54L537.00 361.98L537.50 364.09L538.00 365.91L538.50 367.44L539.00 368.72L539.50 369.76L540.00 370.57L540.50 371.17L541.00 371.55L541.50 371.74L542.00 371.73L542.50 371.52L543.00 371.10L543.50 370.49L544.00 369.66L544.50 368.62L545.00 367.35L545.50 365.82L546.00 364.04L546.50 361.98L547.00 359.60L547.50 356.90L548.00 353.83L548.50 350.36L549.00 346.44L549.50 342.05L550.00 337.11L550.50 331.61L551.00 325.75L551.50 319.64L552.00 313.33L552.50 306.88L553.00 300.36L553.50 293.85L554.00 287.43L554.50 281.18L555.00 275.21L555.50 269.58L556.00 264.41L556.50 259.76L557.00 255.71L557.50 252.33L558.00 249.68L558.50 247.82L559.00 246.76L559.50 246.53L560.00 247.19L560.50 248.76L561.00 251.20L561.50 254.48L562.00 258.52L562.50 263.25L563.00 268.59L563.50 274.45L564.00 280.72L564.50 287.30L565.00 294.10L565.50 301.01L566.00 307.94L566.50 314.79L567.00 321.50L567.50 328.00L568.00 334.21L568.50 340.10L569.00 345.58L569.50 350.46L570.00 354.78L570.50 358.61L571.00 362.01L571.50 365.01L572.00 367.68L572.50 370.04L573.00 372.14L573.50 373.99L574.00 375.64L574.50 377.10L575.00 378.39L575.50 379.54L576.00 380.55L576.50 381.45L577.00 382.25L577.50 382.96L578.00 383.59L578.50 384.14L579.00 384.64L579.50 385.07L580.00 385.46L580.50 385.81L581.00 386.11L581.50 386.39L582.00 386.63L582.50 386.84L583.00 387.03L583.50 387.20L584.00 387.35L584.50 387.48L585.00 387.60L585.50 387.71L586.00 387.80L586.50 387.89L587.00 387.96L587.50 388.03L588.00 388.09L588.50 388.14L589.00 388.19L589.50 388.23L590.00 388.27L590.50 388.30L591.00 388.33L591.50 388.36L592.00 388.38L592.50 388.41L593.00 388.43L593.50 388.44L594.00 388.46L594.50 388.48L595.00 388.49L595.50 388.51L596.00 388.52L596.50 388.53L597.00 388.54L597.50 388.55L598.00 388.56L598.50 388.57L599.00 388.58L599.50 388.58L600.00 388.59L600.50 388.60L601.00 388.60L601.50 388.61L602.00 388.62L602.50 388.62L603.00 388.63L603.50 388.64L604.00 388.64L604.50 388.65L605.00 388.65L605.50 388.66L606.00 388.66L606.50 388.67L607.00 388.67L607.50 388.68L608.00 388.68L608.50 388.69L609.00 388.69L609.50 388.70L610.00 388.70L610.50 388.71L611.00 388.71L611.50 388.72L612.00 388.72L612.50 388.73L613.00 388.73L613.50 388.74L614.00 388.74L614.50 388.75L615.00 388.75L615.50 388.76L616.00 388.76L616.50 388.77L617.00 388.77L617.50 388.77L618.00 388.78L618.50 388.78L619.00 388.79L619.50 388.79L620.00 388.80L620.50 388.80L621.00 388.80L621.50 388.81L622.00 388.81L622.50 388.82L623.00 388.82L623.50 388.82L624.00 388.83L624.50 388.83L625.00 388.83L625.50 388.84L626.00 388.84L626.50 388.84L627.00 388.85L627.50 388.85L628.00 388.85L628.50 388.86L629.00 388.86L629.50 388.86L630.00 388.86L630.50 388.86L631.00 388.87L631.50 388.87L632.00 388.87L632.50 388.87L633.00 388.87L633.50 388.87L634.00 388.87L634.50 388.87L635.00 388.87L635.50 388.87L636.00 388.87L636.50 388.87L637.00 388.87L637.50 388.87L638.00 388.87L638.50 388.86L639.00 388.86L639.50 388.86L640.00 388.85L640.50 388.84L641.00 388.84L641.50 388.83L642.00 388.82L642.50 388.82L643.00 388.81L643.50 388.79L644.00 388.78L644.50 388.77L645.00 388.75L645.50 388.74L646.00 388.72L646.50 388.70L647.00 388.68L647.50 388.66L648.00 388.63L648.50 388.60L649.00 388.57L649.50 388.54L650.00 388.50L650.50 388.46L651.00 388.42L651.50 388.37L652.00 388.32L652.50 388.27L653.00 388.21L653.50 388.14L654.00 388.07L654.50 387.99L655.00 387.91L655.50 387.82L656.00 387.72L656.50 387.61L657.00 387.49L657.50 387.37L658.00 387.23L658.50 387.08L659.00 386.91L659.50 386.74L660.00 386.54L660.50 386.33L661.00 386.10L661.50 385.86L662.00 385.59L662.50 385.29L663.00 384.97L663.50 384.63L664.00 384.25L664.50 383.84L665.00 383.40L665.50 382.91L666.00 382.39L666.50 381.82L667.00 381.19L667.50 380.52L668.00 379.79L668.50 378.99L669.00 378.12L669.50 377.18L670.00 376.15L670.50 375.04L671.00 373.83L671.50 372.52L672.00 371.09L672.50 369.53L673.00 367.84L673.50 366.01L674.00 364.01L674.50 361.84L675.00 359.49L675.50 356.93L676.00 354.14L676.50 351.11L677.00 347.83L677.50 344.25L678.00 340.36L678.50 336.14L679.00 331.55L679.50 326.56L680.00 321.14L680.50 315.24L681.00 308.83L681.50 301.87L682.00 294.30L682.50 286.07L683.00 277.13L683.50 267.41L684.00 256.85L684.50 245.45L685.00 233.77L685.50 222.02L686.00 210.32L686.50 198.80L687.00 187.60L687.50 176.85L688.00 166.71L688.50 157.29L689.00 148.74L689.50 141.19L690.00 134.73L690.50 129.47L691.00 125.49L691.50 122.84L692.00 121.58L692.50 121.71L693.00 123.16L693.50 125.92L694.00 129.93L694.50 135.15L695.00 141.48L695.50 148.86L696.00 157.17L696.50 166.29L697.00 176.12L697.50 186.52L698.00 197.36L698.50 208.52L699.00 219.87L699.50 231.29L700.00 242.67L700.50 253.90L701.00 264.88L701.50 275.53L702.00 285.79L702.50 295.58L703.00 304.64L703.50 312.83L704.00 320.22L704.50 326.89L705.00 332.92L705.50 338.36L706.00 343.28L706.50 347.71L707.00 351.72L707.50 355.33L708.00 358.60L708.50 361.55L709.00 364.21L709.50 366.61L710.00 368.78L710.50 370.74L711.00 372.51L711.50 374.11L712.00 375.56L712.50 376.86L713.00 378.03L713.50 379.10L714.00 380.06L714.50 380.92L715.00 381.70L715.50 382.41L716.00 383.05L716.50 383.62L717.00 384.14L717.50 384.61L718.00 385.03L718.50 385.42L719.00 385.76L719.50 386.07L720.00 386.36L720.50 386.61L721.00 386.84L721.50 387.05L722.00 387.24L722.50 387.41L723.00 387.56L723.50 387.70L724.00 387.82L724.50 387.94L725.00 388.04L725.50 388.13L726.00 388.22L726.50 388.30L727.00 388.37L727.50 388.43L728.00 388.49L728.50 388.54L729.00 388.59L729.50 388.63L730.00 388.67L730.50 388.70L731.00 388.74L731.50 388.77L732.00 388.79L732.50 388.82L733.00 388.84L733.50 388.86L734.00 388.88L734.50 388.90L735.00 388.91L735.50 388.93L736.00 388.94L736.50 388.96L737.00 388.97L737.50 388.98L738.00 388.99L738.50 389.00L739.00 389.01L739.50 389.01L740.00 389.02L740.50 389.03L741.00 389.03L741.50 389.04L742.00 389.04L742.50 389.05L743.00 389.05L743.50 389.06L744.00 389.06L744.50 389.06L745.00 389.06L745.50 389.06L746.00 389.06L746.50 389.06L747.00 389.06L747.50 389.05L748.00 389.05L748.50 389.05L749.00 389.04L749.50 389.03L750.00 389.02L750.50 389.01L751.00 389.00L751.50 388.98L752.00 388.97L752.50 388.95L753.00 388.92L753.50 388.90L754.00 388.87L754.50 388.84L755.00 388.80L755.50 388.76L756.00 388.71L756.50 388.65L757.00 388.59L757.50 388.53L758.00 388.45L758.50 388.36L759.00 388.27L759.50 388.16L760.00 388.04L760.50 387.90L761.00 387.75L761.50 387.58L762.00 387.39L762.50 387.17L763.00 386.93L763.50 386.66L764.00 386.36L764.50 386.03L765.00 385.65L765.50 385.23L766.00 384.76L766.50 384.23L767.00 383.64L767.50 382.98L768.00 382.25L768.50 381.42L769.00 380.50L769.50 379.47L770.00 378.32L770.50 377.03L771.00 375.59L771.50 373.98L772.00 372.18L772.50 370.16L773.00 367.91L773.50 365.39L774.00 362.57L774.50 359.41L775.00 355.89L775.50 351.94L776.00 347.53L776.50 342.59L777.00 337.07L777.50 330.89L778.00 324.19L778.50 317.44L779.00 310.81L779.50 304.46L780.00 298.53L780.50 293.19L781.00 288.59L781.50 284.85L782.00 282.10L782.50 280.40L783.00 279.82L783.50 280.26L784.00 281.58L784.50 283.76L785.00 286.74L785.50 290.45L786.00 294.81L786.50 299.71L787.00 305.04L787.50 310.70L788.00 316.58L788.50 322.56L789.00 328.29L789.50 333.52L790.00 338.29L790.50 342.65L791.00 346.63L791.50 350.26L792.00 353.58L792.50 356.60L793.00 359.36L793.50 361.88L794.00 364.18L794.50 366.28L795.00 368.19L795.50 369.94L796.00 371.53L796.50 372.99L797.00 374.31L797.50 375.52L798.00 376.62L798.50 377.63L799.00 378.55L799.50 379.38L800.00 380.15L800.50 380.84L801.00 381.47L801.50 382.05L802.00 382.58L802.50 383.05L803.00 383.49L803.50 383.89L804.00 384.25L804.50 384.58L805.00 384.87L805.50 385.15L806.00 385.39L806.50 385.62L807.00 385.82L807.50 386.00L808.00 386.17L808.50 386.32L809.00 386.46L809.50 386.59L810.00 386.70L810.50 386.80L811.00 386.89L811.50 386.98L812.00 387.05L812.50 387.12L813.00 387.18L813.50 387.23L814.00 387.28L814.50 387.33L815.00 387.37L815.50 387.40L816.00 387.43L816.50 387.46L817.00 387.49L817.50 387.51L818.00 387.53L818.50 387.54L819.00 387.56L819.50 387.57L820.00 387.58L820.50 387.59L821.00 387.60L821.50 387.61L822.00 387.62L822.50 387.62L823.00 387.63L823.50 387.63L824.00 387.63L824.50 387.64L825.00 387.64L825.50 387.64L826.00 387.64L826.50 387.64L827.00 387.65L827.50 387.65L828.00 387.65L828.50 387.65L829.00 387.65L829.50 387.65L830.00 387.65L830.50 387.65L831.00 387.65L831.50 387.65L832.00 387.65L832.50 387.65L833.00 387.65L833.50 387.65L834.00 387.65L834.50 387.65L835.00 387.65L835.50 387.65L836.00 387.65L836.50 387.65L837.00 387.65L837.50 387.65L838.00 387.65L838.50 387.65L839.00 387.64L839.50 387.64L840.00 387.64L840.50 387.64L841.00 387.64L841.50 387.64L842.00 387.64L842.50 387.64L843.00 387.63L843.50 387.63L844.00 387.63L844.50 387.63L845.00 387.63L845.50 387.63L846.00 387.63L846.50 387.62L847.00 387.62L847.50 387.62L848.00 387.62L848.50 387.62L849.00 387.62L849.50 387.62L850.00 387.61L850.50 387.61L851.00 387.61L851.50 387.61L852.00 387.61L852.50 387.61L853.00 387.61L853.50 387.60L854.00 387.60L854.50 387.60L855.00 387.60L855.50 387.60L856.00 387.60L856.50 387.59L857.00 387.59L857.50 387.59L858.00 387.59L858.50 387.58L859.00 387.58L859.50 387.58L860.00 387.57L860.50 387.57L861.00 387.56L861.50 387.56L862.00 387.55L862.50 387.54L863.00 387.54L863.50 387.53L864.00 387.52L864.50 387.51L865.00 387.49L865.50 387.48L866.00 387.46L866.50 387.44L867.00 387.42L867.50 387.39L868.00 387.36L868.50 387.33L869.00 387.29L869.50 387.24L870.00 387.19L870.50 387.13L871.00 387.06L871.50 386.97L872.00 386.88L872.50 386.77L873.00 386.65L873.50 386.51L874.00 386.34L874.50 386.16L875.00 385.94L875.50 385.69L876.00 385.40L876.50 385.06L877.00 384.68L877.50 384.24L878.00 383.73L878.50 383.14L879.00 382.47L879.50 381.69L880.00 380.79L880.50 379.76L881.00 378.56L881.50 377.19L882.00 375.61L882.50 373.79L883.00 371.69L883.50 369.27L884.00 366.48L884.50 363.28L885.00 359.58L885.50 355.32L886.00 350.41L886.50 344.80L887.00 338.73L887.50 332.30L888.00 325.57L888.50 318.64L889.00 311.61L889.50 304.61L890.00 297.77L890.50 291.23L891.00 285.12L891.50 279.60L892.00 274.78L892.50 270.80L893.00 267.75L893.50 265.70L894.00 264.72L894.50 264.83L895.00 265.98L895.50 268.15L896.00 271.29L896.50 275.31L897.00 280.12L897.50 285.60L898.00 291.63L898.50 298.07L899.00 304.79L899.50 311.67L900.00 318.57L900.50 325.38L901.00 331.99L901.50 338.33L902.00 344.33L902.50 349.91L903.00 355.06L903.50 359.75L904.00 363.97L904.50 367.72L905.00 370.94L905.50 373.64L906.00 375.90L906.50 377.80L907.00 379.40L907.50 380.73L908.00 381.85L908.50 382.79L909.00 383.58L909.50 384.24L910.00 384.80L910.50 385.27L911.00 385.66L911.50 385.98L912.00 386.26L912.50 386.49L913.00 386.68L913.50 386.85L914.00 386.98L914.50 387.10L915.00 387.19L915.50 387.27L916.00 387.34L916.50 387.40L917.00 387.44L917.50 387.48L918.00 387.52L918.50 387.55L919.00 387.57L919.50 387.59L920.00 387.61L920.50 387.62L921.00 387.63L921.50 387.64L922.00 387.65L922.50 387.66L923.00 387.66L923.50 387.67L924.00 387.67L924.50 387.67L925.00 387.68L925.50 387.68L926.00 387.68L926.50 387.68L927.00 387.68L927.50 387.68L928.00 387.68L928.50 387.68L929.00 387.69L929.50 387.69L930.00 387.69L930.50 387.69L931.00 387.69L931.50 387.69L932.00 387.69L932.50 387.69L933.00 387.69L933.50 387.69L934.00 387.69L934.50 387.68L935.00 387.68L935.50 387.68L936.00 387.68L936.50 387.68L937.00 387.68L937.50 387.68L938.00 387.68L938.50 387.68L939.00 387.68L939.50 387.68L940.00 387.68L940.50 387.68L941.00 387.68L941.50 387.68L942.00 387.68L942.50 387.68L943.00 387.68L943.50 387.68L944.00 387.68L944.50 387.67L945.00 387.67L945.50 387.67L946.00 387.67L946.50 387.67L947.00 387.67L947.50 387.67L948.00 387.67L948.50 387.67L949.00 387.67L949.50 387.67L950.00 387.67L950.50 387.66L951.00 387.66L951.50 387.66L952.00 387.66L952.50 387.66L953.00 387.66L953.50 387.66L954.00 387.66L954.50 387.66L955.00 387.66L955.50 387.65L956.00 387.65L956.50 387.65L957.00 387.65L957.50 387.65L958.00 387.65L958.50 387.65L959.00 387.65L959.50 387.65L960.00 387.64L960.50 387.64L961.00 387.64L961.50 387.64L962.00 387.64L962.50 387.64L963.00 387.64L963.50 387.63L964.00 387.63L964.50 387.63L965.00 387.63L965.50 387.63L966.00 387.63L966.50 387.63L967.00 387.62L967.50 387.62L968.00 387.62L968.50 387.62L969.00 387.62L969.50 387.62L970.00 387.62L970.50 387.61L971.00 387.61L971.50 387.61L972.00 387.61L972.50 387.61L973.00 387.61L973.50 387.60L974.00 387.60L974.50 387.60L975.00 387.60L975.50 387.60L976.00 387.59L976.50 387.59"/>
</g>
<g fill="none" stroke-linejoin="round" stroke-linecap="round" stroke-width="1.4" clip-path="url(#cb)">
<path style="mix-blend-mode:multiply" stroke="#f39c9e" d="M105.50 758.00L105.75 758.00L106.00 758.01L106.25 758.01L106.50 758.01L106.75 758.01L107.00 758.01L107.25 758.01L107.50 758.01L107.75 758.02L108.00 758.02L108.25 758.02L108.50 758.02L108.75 758.02L109.00 758.02L109.25 758.03L109.50 758.03L109.75 758.03L110.00 758.03L110.25 758.03L110.50 758.03L110.75 758.03L111.00 758.04L111.25 758.04L111.50 758.04L111.75 758.04L112.00 758.04L112.25 758.04L112.50 758.05L112.75 758.05L113.00 758.05L113.25 758.05L113.50 758.05L113.75 758.06L114.00 758.06L114.25 758.06L114.50 758.06L114.75 758.06L115.00 758.06L115.25 758.07L115.50 758.07L115.75 758.07L116.00 758.07L116.25 758.07L116.50 758.08L116.75 758.08L117.00 758.08L117.25 758.08L117.50 758.08L117.75 758.08L118.00 758.09L118.25 758.09L118.50 758.09L118.75 758.09L119.00 758.09L119.25 758.10L119.50 758.10L119.75 758.10L120.00 758.10L120.25 758.10L120.50 758.11L120.75 758.11L121.00 758.11L121.25 758.11L121.50 758.11L121.75 758.12L122.00 758.12L122.25 758.12L122.50 758.12L122.75 758.13L123.00 758.13L123.25 758.13L123.50 758.13L123.75 758.13L124.00 758.14L124.25 758.14L124.50 758.14L124.75 758.14L125.00 758.14L125.25 758.15L125.50 758.15L125.75 758.15L126.00 758.15L126.25 758.16L126.50 758.16L126.75 758.16L127.00 758.16L127.25 758.16L127.50 758.17L127.75 758.17L128.00 758.17L128.25 758.17L128.50 758.18L128.75 758.18L129.00 758.18L129.25 758.18L129.50 758.19L129.75 758.19L130.00 758.19L130.25 758.19L130.50 758.19L130.75 758.20L131.00 758.20L131.25 758.20L131.50 758.20L131.75 758.21L132.00 758.21L132.25 758.21L132.50 758.21L132.75 758.22L133.00 758.22L133.25 758.22L133.50 758.22L133.75 758.23L134.00 758.23L134.25 758.23L134.50 758.23L134.75 758.24L135.00 758.24L135.25 758.24L135.50 758.24L135.75 758.25L136.00 758.25L136.25 758.25L136.50 758.25L136.75 758.26L137.00 758.26L137.25 758.26L137.50 758.26L137.75 758.27L138.00 758.27L138.25 758.27L138.50 758.27L138.75 758.28L139.00 758.28L139.25 758.28L139.50 758.29L139.75 758.29L140.00 758.29L140.25 758.29L140.50 758.30L140.75 758.30L141.00 758.30L141.25 758.30L141.50 758.31L141.75 758.31L142.00 758.31L142.25 758.31L142.50 758.32L142.75 758.32L143.00 758.32L143.25 758.32L143.50 758.33L143.75 758.33L144.00 758.33L144.25 758.34L144.50 758.34L144.75 758.34L145.00 758.34L145.25 758.35L145.50 758.35L145.75 758.35L146.00 758.36L146.25 758.36L146.50 758.36L146.75 758.36L147.00 758.37L147.25 758.37L147.50 758.37L147.75 758.37L148.00 758.38L148.25 758.38L148.50 758.38L148.75 758.39L149.00 758.39L149.25 758.39L149.50 758.39L149.75 758.40L150.00 758.40L150.25 758.40L150.50 758.41L150.75 758.41L151.00 758.41L151.25 758.41L151.50 758.42L151.75 758.42L152.00 758.42L152.25 758.43L152.50 758.43L152.75 758.43L153.00 758.44L153.25 758.44L153.50 758.45L153.75 758.45L154.00 758.45L154.25 758.46L154.50 758.46L154.75 758.46L155.00 758.47L155.25 758.47L155.50 758.48L155.75 758.48L156.00 758.48L156.25 758.49L156.50 758.49L156.75 758.50L157.00 758.50L157.25 758.51L157.50 758.51L157.75 758.51L158.00 758.52L158.25 758.52L158.50 758.53L158.75 758.53L159.00 758.54L159.25 758.54L159.50 758.55L159.75 758.55L160.00 758.56L160.25 758.56L160.50 758.57L160.75 758.57L161.00 758.58L161.25 758.58L161.50 758.59L161.75 758.59L162.00 758.59L162.25 758.60L162.50 758.60L162.75 758.61L163.00 758.62L163.25 758.62L163.50 758.63L163.75 758.63L164.00 758.64L164.25 758.64L164.50 758.65L164.75 758.65L165.00 758.66L165.25 758.66L165.50 758.67L165.75 758.67L166.00 758.68L166.25 758.68L166.50 758.69L166.75 758.69L167.00 758.70L167.25 758.70L167.50 758.71L167.75 758.71L168.00 758.72L168.25 758.73L168.50 758.73L168.75 758.74L169.00 758.74L169.25 758.75L169.50 758.75L169.75 758.76L170.00 758.76L170.25 758.77L170.50 758.77L170.75 758.78L171.00 758.79L171.25 758.79L171.50 758.80L171.75 758.80L172.00 758.81L172.25 758.81L172.50 758.82L172.75 758.82L173.00 758.83L173.25 758.83L173.50 758.84L173.75 758.84L174.00 758.85L174.25 758.86L174.50 758.86L174.75 758.87L175.00 758.87L175.25 758.88L175.50 758.88L175.75 758.89L176.00 758.89L176.25 758.90L176.50 758.90L176.75 758.91L177.00 758.91L177.25 758.92L177.50 758.92L177.75 758.93L178.00 758.93L178.25 758.94L178.50 758.94L178.75 758.95L179.00 758.95L179.25 758.96L179.50 758.96L179.75 758.97L180.00 758.97L180.25 758.98L180.50 758.98L180.75 758.99L181.00 758.99L181.25 759.00L181.50 759.00L181.75 759.01L182.00 759.01L182.25 759.02L182.50 759.02L182.75 759.02L183.00 759.03L183.25 759.03L183.50 759.04L183.75 759.04L184.00 759.05L184.25 759.05L184.50 759.05L184.75 759.06L185.00 759.06L185.25 759.07L185.50 759.07L185.75 759.08L186.00 759.08L186.25 759.08L186.50 759.09L186.75 759.09L187.00 759.09L187.25 759.10L187.50 759.10L187.75 759.11L188.00 759.11L188.25 759.11L188.50 759.12L188.75 759.12L189.00 759.12L189.25 759.13L189.50 759.13L189.75 759.13L190.00 759.13L190.25 759.14L190.50 759.14L190.75 759.14L191.00 759.15L191.25 759.15L191.50 759.15L191.75 759.15L192.00 759.16L192.25 759.16L192.50 759.16L192.75 759.16L193.00 759.17L193.25 759.17L193.50 759.17L193.75 759.17L194.00 759.18L194.25 759.18L194.50 759.18L194.75 759.18L195.00 759.18L195.25 759.18L195.50 759.19L195.75 759.19L196.00 759.19L196.25 759.19L196.50 759.19L196.75 759.19L197.00 759.19L197.25 759.19L197.50 759.20L197.75 759.20L198.00 759.20L198.25 759.20L198.50 759.20L198.75 759.20L199.00 759.20L199.25 759.20L199.50 759.20L199.75 759.20L200.00 759.20L200.25 759.20L200.50 759.19L200.75 759.17L201.00 759.15L201.25 759.12L201.50 759.09L201.75 759.05L202.00 759.00L202.25 758.95L202.50 758.89L202.75 758.83L203.00 758.76L203.25 758.68L203.50 758.60L203.75 758.44L204.00 758.14L204.25 757.70L204.50 757.15L204.75 756.49L205.00 755.73L205.25 754.89L205.50 753.98L205.75 753.02L206.00 752.00L206.25 750.77L206.50 749.17L206.75 747.24L207.00 745.03L207.25 742.57L207.50 739.90L207.75 737.08L208.00 734.12L208.25 731.08L208.50 728.00L208.75 724.55L209.00 720.52L209.25 716.11L209.50 711.52L209.75 706.95L210.00 702.62L210.25 698.71L210.50 695.15L210.75 691.53L211.00 687.97L211.25 684.63L211.50 681.68L211.75 679.25L212.00 677.50L212.25 676.16L212.50 674.97L212.75 674.12L213.00 673.80L213.25 674.19L213.50 675.25L213.75 676.85L214.00 679.15L214.25 684.63L214.50 692.93L214.75 702.90L215.00 715.79L215.25 733.76L215.50 752.92L215.75 770.18L216.00 787.03L216.25 803.14L216.50 818.36"/>
<path style="mix-blend-mode:multiply" stroke="#f39c9e" d="M221.80 830.00L222.30 810.54L222.80 793.24L223.30 777.34L223.80 766.09L224.30 757.74L224.80 752.00L225.30 748.22L225.80 745.61L226.30 744.32L226.80 743.31L227.30 742.47L227.80 741.84L228.30 741.44L228.80 741.30L229.30 741.39L229.80 741.62L230.30 741.95L230.80 742.34L231.30 742.78L231.80 743.39L232.30 744.17L232.80 745.09L233.30 746.11L233.80 747.21L234.30 748.36L234.80 749.53L235.30 750.73L235.80 752.08L236.30 753.56L236.80 755.13L237.30 756.75L237.80 758.39L238.30 760.00L238.80 761.84L239.30 764.00L239.80 766.19L240.30 768.11L240.80 769.48L241.30 770.00L241.80 769.15L242.30 767.11L242.80 764.66L243.30 762.57L243.80 761.30L244.30 760.15L244.80 759.09L245.30 758.21L245.80 757.62L246.30 757.40L246.80 757.42L247.30 757.46L247.80 757.53L248.30 757.63L248.80 758.04L249.30 758.76L249.80 759.64L250.30 760.60L250.80 761.85L251.30 763.35L251.80 765.02L252.30 766.79L252.80 768.59L253.30 770.33L253.80 772.07L254.30 774.16L254.80 776.42L255.30 778.65L255.80 780.62L256.30 782.12L256.80 782.92L257.30 782.48L257.80 779.80L258.30 775.96L258.80 772.20L259.30 769.38L259.80 766.66L260.30 764.07L260.80 761.79L261.30 760.00L261.80 758.57L262.30 757.26L262.80 756.05L263.30 754.95L263.80 753.93L264.30 753.00L264.80 752.15L265.30 751.37L265.80 750.66L266.30 750.00L266.80 749.40L267.30 748.85L267.80 748.35L268.30 747.89L268.80 747.46L269.30 747.05L269.80 746.66L270.30 746.26L270.80 745.81L271.30 745.37L271.80 744.98L272.30 744.68L272.80 744.52L273.30 744.59L273.80 745.04L274.30 745.76L274.80 746.58L275.30 747.36L275.80 748.37L276.30 749.55L276.80 750.61L277.30 751.24L277.80 751.27L278.30 751.13L278.80 750.89L279.30 750.61L279.80 750.31L280.30 750.04L280.80 749.85L281.30 749.74L281.80 749.65L282.30 749.56L282.80 749.48L283.30 749.41L283.80 749.36L284.30 749.32L284.80 749.30L285.30 749.33L285.80 749.52L286.30 749.83L286.80 750.26L287.30 750.76L287.80 751.30L288.30 751.86L288.80 752.40L289.30 752.94L289.80 753.66L290.30 754.48L290.80 755.32L291.30 756.07L291.80 756.65L292.30 756.97L292.80 756.93L293.30 756.57L293.80 756.09L294.30 755.69L294.80 755.50L295.30 755.35L295.80 755.24L296.30 755.20L296.80 755.83L297.30 757.36L297.80 759.26L298.30 761.22L298.80 763.75L299.30 766.51L299.80 769.11L300.30 771.30L300.80 773.61L301.30 775.96L301.80 778.22L302.30 780.22L302.80 781.83L303.30 782.91L303.80 783.30L304.30 782.43L304.80 780.24L305.30 777.36L305.80 774.40L306.30 772.00L306.80 770.05L307.30 768.13L307.80 766.34L308.30 764.82L308.80 763.70L309.30 762.86L309.80 762.15L310.30 761.56L310.80 761.13L311.30 760.83L311.80 760.57L312.30 760.34L312.80 760.16L313.30 760.04L313.80 760.00L314.30 760.06L314.80 760.22L315.30 760.43L315.80 760.67L316.30 760.90L316.80 761.09L317.30 761.19L317.80 761.19L318.30 761.12L318.80 761.01L319.30 760.85L319.80 760.66L320.30 760.45L320.80 760.21L321.30 759.98L321.80 759.74L322.30 759.51L322.80 759.30L323.30 759.11L323.80 758.96L324.30 758.86L324.80 758.81L325.30 758.80L325.80 758.81L326.30 758.82L326.80 758.83L327.30 758.85L327.80 758.87L328.30 758.90L328.80 758.93L329.30 758.96L329.80 758.99L330.30 759.03L330.80 759.07L331.30 759.10L331.80 759.14L332.30 759.18L332.80 759.22L333.30 759.26L333.80 759.30L334.30 759.34L334.80 759.38L335.30 759.41L335.80 759.45L336.30 759.48L336.80 759.51L337.30 759.53L337.80 759.55L338.30 759.57L338.80 759.59L339.30 759.59L339.80 759.60L340.30 759.60L340.80 759.60L341.30 759.59L341.80 759.58L342.30 759.57L342.80 759.56L343.30 759.55L343.80 759.54L344.30 759.52L344.80 759.51L345.30 759.49L345.80 759.48L346.30 759.46L346.80 759.45L347.30 759.44L347.80 759.42L348.30 759.42L348.80 759.41L349.30 759.40L349.80 759.40L350.30 759.40L350.80 759.40L351.30 759.40L351.80 759.41L352.30 759.41L352.80 759.42L353.30 759.43L353.80 759.44L354.30 759.45L354.80 759.46L355.30 759.47L355.80 759.48L356.30 759.49L356.80 759.51L357.30 759.52L357.80 759.54L358.30 759.55L358.80 759.56L359.30 759.58L359.80 759.59L360.30 759.61L360.80 759.62L361.30 759.64L361.80 759.65L362.30 759.67L362.80 759.68L363.30 759.70L363.80 759.71L364.30 759.72L364.80 759.73L365.30 759.74L365.80 759.75L366.30 759.76L366.80 759.77L367.30 759.78L367.80 759.79L368.30 759.79L368.80 759.80L369.30 759.80L369.80 759.80L370.30 759.80L370.80 759.80L371.30 759.79L371.80 759.79L372.30 759.78L372.80 759.77L373.30 759.76L373.80 759.74L374.30 759.73L374.80 759.71L375.30 759.69L375.80 759.67L376.30 759.65L376.80 759.62L377.30 759.60L377.80 759.57L378.30 759.54L378.80 759.51L379.30 759.48L379.80 759.44L380.30 759.41L380.80 759.37L381.30 759.33L381.80 759.29L382.30 759.25L382.80 759.21L383.30 759.16L383.80 759.12L384.30 759.07L384.80 759.02L385.30 758.96L385.80 758.88L386.30 758.76L386.80 758.61L387.30 758.44L387.80 758.25L388.30 758.04L388.80 757.81L389.30 757.57L389.80 757.32L390.30 757.06L390.80 756.80L391.30 756.54L391.80 756.27L392.30 756.01L392.80 755.76L393.30 755.52L393.80 755.28L394.30 755.07L394.80 754.87L395.30 754.69L395.80 754.50L396.30 754.29L396.80 754.08L397.30 753.87L397.80 753.67L398.30 753.47L398.80 753.29L399.30 753.12L399.80 752.97L400.30 752.85L400.80 752.77L401.30 752.71L401.80 752.70L402.30 752.72L402.80 752.76L403.30 752.83L403.80 752.91L404.30 753.02L404.80 753.13L405.30 753.26L405.80 753.39L406.30 753.53L406.80 753.67L407.30 753.81L407.80 753.95L408.30 754.08L408.80 754.23L409.30 754.40L409.80 754.58L410.30 754.78L410.80 754.98L411.30 755.19L411.80 755.41L412.30 755.63L412.80 755.86L413.30 756.08L413.80 756.30L414.30 756.52L414.80 756.73L415.30 756.93L415.80 757.13L416.30 757.31L416.80 757.47L417.30 757.62L417.80 757.75L418.30 757.87L418.80 757.98L419.30 758.10L419.80 758.21L420.30 758.32L420.80 758.43L421.30 758.54L421.80 758.65L422.30 758.75L422.80 758.84L423.30 758.94L423.80 759.02L424.30 759.10L424.80 759.17L425.30 759.23L425.80 759.29L426.30 759.33L426.80 759.36L427.30 759.39L427.80 759.40L428.30 759.40L428.80 759.39L429.30 759.38L429.80 759.36L430.30 759.33L430.80 759.30L431.30 759.27L431.80 759.23L432.30 759.18L432.80 759.13L433.30 759.08L433.80 759.02L434.30 758.96L434.80 758.90L435.30 758.84L435.80 758.77L436.30 758.70L436.80 758.63L437.30 758.55L437.80 758.45L438.30 758.32L438.80 758.18L439.30 758.02L439.80 757.84L440.30 757.65L440.80 757.45L441.30 757.25L441.80 757.05L442.30 756.84L442.80 756.64L443.30 756.45L443.80 756.27L444.30 756.09L444.80 755.89L445.30 755.67L445.80 755.44L446.30 755.22L446.80 755.02L447.30 754.84L447.80 754.71L448.30 754.62L448.80 754.60L449.30 754.67L449.80 754.82L450.30 755.04L450.80 755.30L451.30 755.60L451.80 755.91L452.30 756.21L452.80 756.50L453.30 756.75L453.80 757.02L454.30 757.31L454.80 757.61L455.30 757.91L455.80 758.22L456.30 758.53L456.80 758.84L457.30 759.13L457.80 759.41L458.30 759.68L458.80 759.92L459.30 760.14L459.80 760.33L460.30 760.50L460.80 760.65L461.30 760.81L461.80 760.96L462.30 761.10L462.80 761.24L463.30 761.37L463.80 761.49L464.30 761.60L464.80 761.71L465.30 761.80L465.80 761.87L466.30 761.94L466.80 761.98L467.30 762.02L467.80 762.05L468.30 762.09L468.80 762.12L469.30 762.15L469.80 762.18L470.30 762.21L470.80 762.24L471.30 762.27L471.80 762.30L472.30 762.33L472.80 762.35L473.30 762.38L473.80 762.40L474.30 762.43L474.80 762.45L475.30 762.47L475.80 762.49L476.30 762.52L476.80 762.54L477.30 762.56L477.80 762.57L478.30 762.59L478.80 762.61L479.30 762.63L479.80 762.64L480.30 762.66L480.80 762.67L481.30 762.69L481.80 762.70L482.30 762.71L482.80 762.72L483.30 762.73L483.80 762.74L484.30 762.75L484.80 762.76L485.30 762.77L485.80 762.77L486.30 762.78L486.80 762.78L487.30 762.79L487.80 762.79L488.30 762.80L488.80 762.80L489.30 762.80L489.80 762.80L490.30 762.80L490.80 762.80L491.30 762.80L491.80 762.80L492.30 762.80L492.80 762.80L493.30 762.80L493.80 762.80L494.30 762.80L494.80 762.80L495.30 762.80L495.80 762.80L496.30 762.80L496.80 762.80L497.30 762.80L497.80 762.80L498.30 762.80L498.80 762.80L499.30 762.80L499.80 762.80L500.30 762.80L500.80 762.80L501.30 762.80L501.80 762.80L502.30 762.80L502.80 762.80L503.30 762.80L503.80 762.80L504.30 762.80L504.80 762.80L505.30 762.80L505.80 762.80L506.30 762.80L506.80 762.80L507.30 762.80L507.80 762.80L508.30 762.80L508.80 762.80L509.30 762.80L509.80 762.80L510.30 762.80L510.80 762.80L511.30 762.80L511.80 762.80L512.30 762.80L512.80 762.80L513.30 762.80L513.80 762.80L514.30 762.80L514.80 762.80L515.30 762.80L515.80 762.80L516.30 762.80L516.80 762.80L517.30 762.80L517.80 762.80L518.30 762.80L518.80 762.80L519.30 762.80L519.80 762.80L520.30 762.80L520.80 762.80L521.30 762.80L521.80 762.80L522.30 762.80L522.80 762.81L523.30 762.84L523.80 762.87L524.30 762.91L524.80 762.96L525.30 763.02L525.80 763.08L526.30 763.15L526.80 763.22L527.30 763.29L527.80 763.37L528.30 763.45L528.80 763.53L529.30 763.61L529.80 763.69L530.30 763.76L530.80 763.84L531.30 763.91L531.80 763.98L532.30 764.04L532.80 764.11L533.30 764.18L533.80 764.26L534.30 764.34L534.80 764.42L535.30 764.50L535.80 764.59L536.30 764.67L536.80 764.75L537.30 764.82L537.80 764.90L538.30 764.96L538.80 765.02L539.30 765.08L539.80 765.12L540.30 765.16L540.80 765.18L541.30 765.20L541.80 765.20L542.30 765.20L542.80 765.19L543.30 765.17L543.80 765.15L544.30 765.13L544.80 765.11L545.30 765.08L545.80 765.04L546.30 765.01L546.80 764.97L547.30 764.93L547.80 764.89L548.30 764.84L548.80 764.80L549.30 764.75L549.80 764.70L550.30 764.65L550.80 764.60L551.30 764.55L551.80 764.50L552.30 764.45L552.80 764.40L553.30 764.36L553.80 764.31L554.30 764.26L554.80 764.22L555.30 764.17L555.80 764.12L556.30 764.07L556.80 764.01L557.30 763.95L557.80 763.88L558.30 763.82L558.80 763.75L559.30 763.68L559.80 763.62L560.30 763.55L560.80 763.49L561.30 763.44L561.80 763.38L562.30 763.33L562.80 763.29L563.30 763.26L563.80 763.23L564.30 763.21L564.80 763.20L565.30 763.20L565.80 763.20L566.30 763.21L566.80 763.22L567.30 763.23L567.80 763.25L568.30 763.26L568.80 763.28L569.30 763.30L569.80 763.32L570.30 763.34L570.80 763.37L571.30 763.39L571.80 763.42L572.30 763.44L572.80 763.46L573.30 763.49L573.80 763.51L574.30 763.54L574.80 763.56L575.30 763.58L575.80 763.60L576.30 763.62L576.80 763.64L577.30 763.66L577.80 763.67L578.30 763.68L578.80 763.69L579.30 763.70L579.80 763.70L580.30 763.70L580.80 763.70L581.30 763.70L581.80 763.70L582.30 763.70L582.80 763.70L583.30 763.70L583.80 763.70L584.30 763.69L584.80 763.69L585.30 763.69L585.80 763.69L586.30 763.69L586.80 763.69L587.30 763.68L587.80 763.68L588.30 763.68L588.80 763.68L589.30 763.67L589.80 763.67L590.30 763.67L590.80 763.66L591.30 763.66L591.80 763.66L592.30 763.65L592.80 763.65L593.30 763.65L593.80 763.64L594.30 763.64L594.80 763.64L595.30 763.63L595.80 763.63L596.30 763.62L596.80 763.62L597.30 763.62L597.80 763.61L598.30 763.61L598.80 763.60L599.30 763.60L599.80 763.59L600.30 763.59L600.80 763.59L601.30 763.58L601.80 763.58L602.30 763.57L602.80 763.57L603.30 763.56L603.80 763.56L604.30 763.55L604.80 763.55L605.30 763.54L605.80 763.54L606.30 763.53L606.80 763.53L607.30 763.52L607.80 763.52L608.30 763.51L608.80 763.51L609.30 763.50L609.80 763.50L610.30 763.49L610.80 763.49L611.30 763.48L611.80 763.48L612.30 763.47L612.80 763.47L613.30 763.46L613.80 763.46L614.30 763.45L614.80 763.45L615.30 763.44L615.80 763.44L616.30 763.43L616.80 763.43L617.30 763.42L617.80 763.42L618.30 763.41L618.80 763.41L619.30 763.41L619.80 763.40L620.30 763.40L620.80 763.39L621.30 763.39L621.80 763.38L622.30 763.38L622.80 763.38L623.30 763.37L623.80 763.37L624.30 763.36L624.80 763.36L625.30 763.36L625.80 763.35L626.30 763.35L626.80 763.34L627.30 763.34L627.80 763.34L628.30 763.33L628.80 763.33L629.30 763.32L629.80 763.32L630.30 763.32L630.80 763.31L631.30 763.31L631.80 763.30L632.30 763.30L632.80 763.30L633.30 763.29L633.80 763.29L634.30 763.28L634.80 763.28L635.30 763.28L635.80 763.27L636.30 763.27L636.80 763.26L637.30 763.26L637.80 763.26L638.30 763.25L638.80 763.25L639.30 763.24L639.80 763.24L640.30 763.23L640.80 763.23L641.30 763.22L641.80 763.22L642.30 763.22L642.80 763.21L643.30 763.21L643.80 763.20L644.30 763.20L644.80 763.19L645.30 763.19L645.80 763.18L646.30 763.18L646.80 763.17L647.30 763.17L647.80 763.16L648.30 763.15L648.80 763.15L649.30 763.14L649.80 763.14L650.30 763.13L650.80 763.13L651.30 763.12L651.80 763.11L652.30 763.11L652.80 763.10L653.30 763.10L653.80 763.09L654.30 763.08L654.80 763.08L655.30 763.07L655.80 763.06L656.30 763.05L656.80 763.05L657.30 763.04L657.80 763.03L658.30 763.03L658.80 763.02L659.30 763.01L659.80 763.00L660.30 762.99L660.80 762.98L661.30 762.98L661.80 762.97L662.30 762.96L662.80 762.95L663.30 762.94L663.80 762.93L664.30 762.92L664.80 762.90L665.30 762.88L665.80 762.87L666.30 762.85L666.80 762.82L667.30 762.80L667.80 762.77L668.30 762.72L668.80 762.63L669.30 762.49L669.80 762.34L670.30 762.18L670.80 762.02L671.30 761.89L671.80 761.80L672.30 761.75L672.80 761.70L673.30 761.63L673.80 761.55L674.30 761.46L674.80 761.34L675.30 761.20L675.80 761.03L676.30 760.82L676.80 760.56L677.30 760.26L677.80 759.88L678.30 759.43L678.80 758.88L679.30 758.21L679.80 757.40L680.30 756.42L680.80 755.22L681.30 753.78L681.80 752.08L682.30 750.10L682.80 747.80L683.30 745.16L683.80 742.13L684.30 738.68L684.80 734.79L685.30 730.43L685.80 725.57L686.30 720.20L686.80 714.30L687.30 707.88L687.80 700.92L688.30 693.46L688.80 685.51L689.30 677.12L689.80 668.32L690.30 659.19L690.80 649.80L691.30 640.23L691.80 630.57L692.30 620.94L692.80 611.44L693.30 602.20L693.80 593.33L694.30 584.96L694.80 577.20L695.30 570.17L695.80 563.99L696.30 558.73L696.80 554.50L697.30 551.36L697.80 549.35L698.30 548.52L698.80 548.75L699.30 549.75L699.80 551.52L700.30 554.02L700.80 557.24L701.30 561.14L701.80 565.68L702.30 570.81L702.80 576.49L703.30 582.64L703.80 589.22L704.30 596.17L704.80 603.41L705.30 610.88L705.80 618.52L706.30 626.27L706.80 634.07L707.30 641.82L707.80 649.19L708.30 656.10L708.80 662.59L709.30 668.69L709.80 674.41L710.30 679.77L710.80 684.81L711.30 689.55L711.80 693.99L712.30 698.16L712.80 702.07L713.30 705.74L713.80 709.19L714.30 712.43L714.80 715.47L715.30 718.32L715.80 721.00L716.30 723.51L716.80 725.87L717.30 728.08L717.80 730.16L718.30 732.11L718.80 733.95L719.30 735.66L719.80 737.28L720.30 738.79L720.80 740.22L721.30 741.56L721.80 742.82L722.30 744.00L722.80 745.12L723.30 746.16L723.80 747.15L724.30 748.08L724.80 748.95L725.30 749.77L725.80 750.54L726.30 751.27L726.80 751.96L727.30 752.60L727.80 753.21L728.30 753.79L728.80 754.33L729.30 754.83L729.80 755.31L730.30 755.77L730.80 756.19L731.30 756.59L731.80 756.97L732.30 757.33L732.80 757.67L733.30 757.99L733.80 758.29L734.30 758.57L734.80 758.84L735.30 759.09L735.80 759.32L736.30 759.55L736.80 759.76L737.30 759.96L737.80 760.15L738.30 760.33L738.80 760.50L739.30 760.67L739.80 760.82L740.30 760.97L740.80 761.11L741.30 761.25L741.80 761.38L742.30 761.50L742.80 761.62L743.30 761.73L743.80 761.84L744.30 761.94L744.80 762.04L745.30 762.14L745.80 762.23L746.30 762.32L746.80 762.41L747.30 762.49L747.80 762.57L748.30 762.65L748.80 762.72L749.30 762.79L749.80 762.86L750.30 762.93L750.80 763.00L751.30 763.06L751.80 763.13L752.30 763.19L752.80 763.25L753.30 763.31L753.80 763.36L754.30 763.42L754.80 763.48L755.30 763.53L755.80 763.58L756.30 763.63L756.80 763.68L757.30 763.73L757.80 763.78L758.30 763.83L758.80 763.88L759.30 763.93L759.80 763.97L760.30 764.02L760.80 764.07L761.30 764.11L761.80 764.16L762.30 764.20L762.80 764.25L763.30 764.30L763.80 764.34L764.30 764.39L764.80 764.43L765.30 764.48L765.80 764.52L766.30 764.57L766.80 764.61L767.30 764.65L767.80 764.70L768.30 764.74L768.80 764.79L769.30 764.83L769.80 764.88L770.30 764.92L770.80 764.97L771.30 765.01L771.80 765.06L772.30 765.10L772.80 765.14L773.30 765.19L773.80 765.23L774.30 765.28L774.80 765.32L775.30 765.37L775.80 765.41L776.30 765.46L776.80 765.50L777.30 765.55L777.80 765.59L778.30 765.64L778.80 765.68L779.30 765.73L779.80 765.77L780.30 765.81L780.80 765.86L781.30 765.91L781.80 765.96L782.30 766.00L782.80 766.05L783.30 766.10L783.80 766.16L784.30 766.21L784.80 766.26L785.30 766.31L785.80 766.36L786.30 766.42L786.80 766.47L787.30 766.52L787.80 766.58L788.30 766.63L788.80 766.68L789.30 766.74L789.80 766.79L790.30 766.84L790.80 766.90L791.30 766.95L791.80 767.00L792.30 767.05L792.80 767.10L793.30 767.15L793.80 767.20L794.30 767.25L794.80 767.29L795.30 767.34L795.80 767.38L796.30 767.42L796.80 767.47L797.30 767.51L797.80 767.55L798.30 767.58L798.80 767.62L799.30 767.65L799.80 767.69L800.30 767.72L800.80 767.75L801.30 767.78L801.80 767.81L802.30 767.84L802.80 767.88L803.30 767.91L803.80 767.94L804.30 767.97L804.80 768.00L805.30 768.04L805.80 768.07L806.30 768.10L806.80 768.13L807.30 768.16L807.80 768.19L808.30 768.22L808.80 768.25L809.30 768.27L809.80 768.30L810.30 768.33L810.80 768.35L811.30 768.38L811.80 768.40L812.30 768.42L812.80 768.45L813.30 768.47L813.80 768.48L814.30 768.50L814.80 768.52L815.30 768.53L815.80 768.55L816.30 768.56L816.80 768.57L817.30 768.58L817.80 768.59L818.30 768.59L818.80 768.60L819.30 768.60L819.80 768.60L820.30 768.60L820.80 768.59L821.30 768.59L821.80 768.58L822.30 768.56L822.80 768.55L823.30 768.53L823.80 768.51L824.30 768.49L824.80 768.47L825.30 768.45L825.80 768.42L826.30 768.39L826.80 768.36L827.30 768.33L827.80 768.30L828.30 768.27L828.80 768.23L829.30 768.19L829.80 768.15L830.30 768.11L830.80 768.07L831.30 768.03L831.80 767.99L832.30 767.94L832.80 767.90L833.30 767.85L833.80 767.81L834.30 767.76L834.80 767.71L835.30 767.67L835.80 767.62L836.30 767.57L836.80 767.52L837.30 767.47L837.80 767.42L838.30 767.37L838.80 767.32L839.30 767.27L839.80 767.22L840.30 767.17L840.80 767.12L841.30 767.06L841.80 767.00L842.30 766.94L842.80 766.87L843.30 766.80L843.80 766.73L844.30 766.66L844.80 766.58L845.30 766.50L845.80 766.42L846.30 766.33L846.80 766.25L847.30 766.16L847.80 766.07L848.30 765.98L848.80 765.89L849.30 765.79L849.80 765.69L850.30 765.60L850.80 765.50L851.30 765.40L851.80 765.30L852.30 765.20L852.80 765.09L853.30 764.99L853.80 764.89L854.30 764.78L854.80 764.68L855.30 764.57L855.80 764.47L856.30 764.36L856.80 764.26L857.30 764.16L857.80 764.05L858.30 763.95L858.80 763.84L859.30 763.74L859.80 763.64L860.30 763.54L860.80 763.44L861.30 763.33L861.80 763.23L862.30 763.12L862.80 763.01L863.30 762.90L863.80 762.79L864.30 762.68L864.80 762.57L865.30 762.45L865.80 762.34L866.30 762.23L866.80 762.11L867.30 761.99L867.80 761.88L868.30 761.76L868.80 761.65L869.30 761.53L869.80 761.41L870.30 761.30L870.80 761.18L871.30 761.06L871.80 760.95L872.30 760.83L872.80 760.72L873.30 760.60L873.80 760.48L874.30 760.37L874.80 760.25L875.30 760.14L875.80 760.02L876.30 759.90L876.80 759.79L877.30 759.67L877.80 759.55L878.30 759.43L878.80 759.30L879.30 759.18L879.80 759.05L880.30 758.92L880.80 758.79L881.30 758.66L881.80 758.53L882.30 758.40L882.80 758.26L883.30 758.13L883.80 757.99L884.30 757.85L884.80 757.70L885.30 757.56L885.80 757.41L886.30 757.26L886.80 757.10L887.30 756.92L887.80 756.74L888.30 756.55L888.80 756.38L889.30 756.24L889.80 756.14L890.30 756.05L890.80 755.97L891.30 755.91L891.80 755.89L892.30 755.87L892.80 755.85L893.30 755.83L893.80 755.82L894.30 755.80L894.80 755.79L895.30 755.78L895.80 755.77L896.30 755.76L896.80 755.75L897.30 755.75L897.80 755.74L898.30 755.73L898.80 755.72L899.30 755.71L899.80 755.70L900.30 755.69L900.80 755.68L901.30 755.67L901.80 755.66L902.30 755.64L902.80 755.63L903.30 755.62L903.80 755.60L904.30 755.59L904.80 755.58L905.30 755.57L905.80 755.55L906.30 755.54L906.80 755.53L907.30 755.52L907.80 755.52L908.30 755.51L908.80 755.51L909.30 755.50L909.80 755.50L910.30 755.51L910.80 755.54L911.30 755.59L911.80 755.66L912.30 755.72L912.80 755.78L913.30 755.83L913.80 755.87L914.30 755.91L914.80 755.95L915.30 755.99L915.80 756.03L916.30 756.07L916.80 756.11L917.30 756.15L917.80 756.19L918.30 756.22L918.80 756.26L919.30 756.30L919.80 756.34L920.30 756.37L920.80 756.41L921.30 756.44L921.80 756.48L922.30 756.51L922.80 756.55L923.30 756.58L923.80 756.62L924.30 756.65L924.80 756.69L925.30 756.72L925.80 756.75L926.30 756.78L926.80 756.82L927.30 756.85L927.80 756.88L928.30 756.91L928.80 756.94L929.30 756.98L929.80 757.01L930.30 757.04L930.80 757.07L931.30 757.10L931.80 757.13L932.30 757.16L932.80 757.19L933.30 757.22L933.80 757.25L934.30 757.28L934.80 757.31L935.30 757.33L935.80 757.36L936.30 757.39L936.80 757.42L937.30 757.45L937.80 757.48L938.30 757.51L938.80 757.53L939.30 757.56L939.80 757.59L940.30 757.62L940.80 757.64L941.30 757.67L941.80 757.70L942.30 757.73L942.80 757.75L943.30 757.78L943.80 757.81L944.30 757.83L944.80 757.86L945.30 757.89L945.80 757.91L946.30 757.94L946.80 757.97L947.30 757.99L947.80 758.02L948.30 758.04L948.80 758.07L949.30 758.10L949.80 758.12L950.30 758.15L950.80 758.17L951.30 758.20L951.80 758.22L952.30 758.25L952.80 758.27L953.30 758.30L953.80 758.32L954.30 758.34L954.80 758.37L955.30 758.39L955.80 758.42L956.30 758.44L956.80 758.46L957.30 758.49L957.80 758.51L958.30 758.53L958.80 758.55L959.30 758.58L959.80 758.60L960.30 758.62L960.80 758.64L961.30 758.66L961.80 758.69L962.30 758.71L962.80 758.73L963.30 758.75L963.80 758.77L964.30 758.79L964.80 758.81L965.30 758.83L965.80 758.85L966.30 758.87L966.80 758.89L967.30 758.91L967.80 758.93L968.30 758.95L968.80 758.97L969.30 758.99"/>
<path style="mix-blend-mode:multiply" stroke="#9692ee" d="M105.50 721.80L105.75 721.80L106.00 721.80L106.25 721.80L106.50 721.80L106.75 721.80L107.00 721.80L107.25 721.80L107.50 721.80L107.75 721.80L108.00 721.80L108.25 721.80L108.50 721.80L108.75 721.80L109.00 721.80L109.25 721.80L109.50 721.80L109.75 721.80L110.00 721.80L110.25 721.80L110.50 721.80L110.75 721.80L111.00 721.80L111.25 721.80L111.50 721.80L111.75 721.80L112.00 721.80L112.25 721.80L112.50 721.80L112.75 721.80L113.00 721.80L113.25 721.80L113.50 721.80L113.75 721.80L114.00 721.80L114.25 721.80L114.50 721.80L114.75 721.80L115.00 721.80L115.25 721.80L115.50 721.80L115.75 721.80L116.00 721.80L116.25 721.80L116.50 721.80L116.75 721.80L117.00 721.80L117.25 721.80L117.50 721.80L117.75 721.80L118.00 721.80L118.25 721.80L118.50 721.80L118.75 721.80L119.00 721.80L119.25 721.80L119.50 721.80L119.75 721.80L120.00 721.80L120.25 721.80L120.50 721.80L120.75 721.80L121.00 721.80L121.25 721.80L121.50 721.80L121.75 721.80L122.00 721.80L122.25 721.80L122.50 721.80L122.75 721.80L123.00 721.80L123.25 721.80L123.50 721.80L123.75 721.80L124.00 721.80L124.25 721.80L124.50 721.80L124.75 721.80L125.00 721.80L125.25 721.80L125.50 721.80L125.75 721.80L126.00 721.80L126.25 721.80L126.50 721.80L126.75 721.80L127.00 721.80L127.25 721.80L127.50 721.80L127.75 721.80L128.00 721.80L128.25 721.80L128.50 721.80L128.75 721.80L129.00 721.80L129.25 721.80L129.50 721.80L129.75 721.80L130.00 721.80L130.25 721.80L130.50 721.80L130.75 721.80L131.00 721.80L131.25 721.80L131.50 721.80L131.75 721.80L132.00 721.80L132.25 721.80L132.50 721.80L132.75 721.80L133.00 721.80L133.25 721.80L133.50 721.80L133.75 721.80L134.00 721.80L134.25 721.80L134.50 721.80L134.75 721.80L135.00 721.80L135.25 721.80L135.50 721.80L135.75 721.80L136.00 721.80L136.25 721.80L136.50 721.80L136.75 721.80L137.00 721.80L137.25 721.80L137.50 721.80L137.75 721.80L138.00 721.80L138.25 721.80L138.50 721.80L138.75 721.80L139.00 721.80L139.25 721.80L139.50 721.80L139.75 721.80L140.00 721.80L140.25 721.80L140.50 721.80L140.75 721.80L141.00 721.80L141.25 721.80L141.50 721.80L141.75 721.80L142.00 721.80L142.25 721.80L142.50 721.80L142.75 721.80L143.00 721.80L143.25 721.80L143.50 721.80L143.75 721.80L144.00 721.80L144.25 721.80L144.50 721.80L144.75 721.80L145.00 721.80L145.25 721.80L145.50 721.80L145.75 721.80L146.00 721.80L146.25 721.80L146.50 721.80L146.75 721.80L147.00 721.80L147.25 721.80L147.50 721.80L147.75 721.80L148.00 721.80L148.25 721.80L148.50 721.80L148.75 721.80L149.00 721.80L149.25 721.80L149.50 721.80L149.75 721.80L150.00 721.80L150.25 721.80L150.50 721.80L150.75 721.80L151.00 721.80L151.25 721.80L151.50 721.80L151.75 721.80L152.00 721.80L152.25 721.80L152.50 721.80L152.75 721.80L153.00 721.80L153.25 721.80L153.50 721.80L153.75 721.80L154.00 721.80L154.25 721.80L154.50 721.80L154.75 721.80L155.00 721.80L155.25 721.80L155.50 721.80L155.75 721.80L156.00 721.80L156.25 721.80L156.50 721.80L156.75 721.80L157.00 721.80L157.25 721.80L157.50 721.80L157.75 721.80L158.00 721.80L158.25 721.80L158.50 721.80L158.75 721.80L159.00 721.80L159.25 721.80L159.50 721.80L159.75 721.80L160.00 721.80L160.25 721.80L160.50 721.80L160.75 721.80L161.00 721.80L161.25 721.80L161.50 721.80L161.75 721.80L162.00 721.80L162.25 721.80L162.50 721.80L162.75 721.80L163.00 721.80L163.25 721.80L163.50 721.80L163.75 721.80L164.00 721.80L164.25 721.80L164.50 721.80L164.75 721.80L165.00 721.80L165.25 721.80L165.50 721.80L165.75 721.80L166.00 721.80L166.25 721.80L166.50 721.80L166.75 721.80L167.00 721.80L167.25 721.80L167.50 721.80L167.75 721.80L168.00 721.80L168.25 721.80L168.50 721.80L168.75 721.80L169.00 721.80L169.25 721.80L169.50 721.80L169.75 721.80L170.00 721.80L170.25 721.80L170.50 721.80L170.75 721.80L171.00 721.80L171.25 721.80L171.50 721.80L171.75 721.80L172.00 721.80L172.25 721.80L172.50 721.80L172.75 721.80L173.00 721.80L173.25 721.80L173.50 721.80L173.75 721.80L174.00 721.80L174.25 721.80L174.50 721.80L174.75 721.80L175.00 721.80L175.25 721.80L175.50 721.80L175.75 721.80L176.00 721.80L176.25 721.80L176.50 721.80L176.75 721.80L177.00 721.80L177.25 721.80L177.50 721.80L177.75 721.80L178.00 721.80L178.25 721.80L178.50 721.80L178.75 721.80L179.00 721.80L179.25 721.80L179.50 721.80L179.75 721.80L180.00 721.80L180.25 721.80L180.50 721.80L180.75 721.80L181.00 721.80L181.25 721.80L181.50 721.80L181.75 721.80L182.00 721.80L182.25 721.80L182.50 721.80L182.75 721.80L183.00 721.80L183.25 721.80L183.50 721.80L183.75 721.80L184.00 721.80L184.25 721.80L184.50 721.80L184.75 721.80L185.00 721.80L185.25 721.80L185.50 721.80L185.75 721.80L186.00 721.80L186.25 721.80L186.50 721.80L186.75 721.80L187.00 721.80L187.25 721.80L187.50 721.80L187.75 721.80L188.00 721.80L188.25 721.80L188.50 721.80L188.75 721.80L189.00 721.80L189.25 721.80L189.50 721.80L189.75 721.80L190.00 721.80L190.25 721.80L190.50 721.80L190.75 721.80L191.00 721.80L191.25 721.80L191.50 721.80L191.75 721.80L192.00 721.80L192.25 721.80L192.50 721.80L192.75 721.80L193.00 721.80L193.25 721.80L193.50 721.80L193.75 721.80L194.00 721.80L194.25 721.80L194.50 721.80L194.75 721.80L195.00 721.80L195.25 721.80L195.50 721.80L195.75 721.80L196.00 721.80L196.25 721.80L196.50 721.80L196.75 721.80L197.00 721.80L197.25 721.80L197.50 721.80L197.75 721.80L198.00 721.80L198.25 721.80L198.50 721.80L198.75 721.80L199.00 721.80L199.25 721.80L199.50 721.80L199.75 721.80L200.00 721.80L200.25 721.80L200.50 721.79L200.75 721.77L201.00 721.75L201.25 721.72L201.50 721.69L201.75 721.65L202.00 721.60L202.25 721.55L202.50 721.49L202.75 721.43L203.00 721.36L203.25 721.28L203.50 721.20L203.75 721.05L204.00 720.77L204.25 720.36L204.50 719.85L204.75 719.24L205.00 718.53L205.25 717.75L205.50 716.89L205.75 715.97L206.00 715.00L206.25 713.77L206.50 712.12L206.75 710.09L207.00 707.75L207.25 705.14L207.50 702.32L207.75 699.34L208.00 696.25L208.25 693.12L208.50 690.00L208.75 686.60L209.00 682.70L209.25 678.47L209.50 674.06L209.75 669.66L210.00 665.40L210.25 661.46L210.50 658.00L210.75 654.79L211.00 651.57L211.25 648.46L211.50 645.61L211.75 643.13L212.00 641.14L212.25 639.77L212.50 638.65L212.75 637.67L213.00 636.95L213.25 636.61L213.50 636.82L213.75 637.63L214.00 638.94L214.25 640.63L214.50 643.53L214.75 649.16L215.00 656.90L215.25 666.06L215.50 678.07L215.75 695.31L216.00 714.83L216.25 733.63L216.50 752.46L216.75 771.63L217.00 790.00L217.25 807.20L217.50 823.63"/>
<path style="mix-blend-mode:multiply" stroke="#9692ee" d="M221.00 829.90L221.50 804.44L222.00 780.09L222.50 755.98L223.00 739.10L223.50 726.24L224.00 717.12L224.50 712.42L225.00 708.99L225.50 706.44L226.00 704.79L226.50 703.92L227.00 703.26L227.50 702.75L228.00 702.39L228.50 702.19L229.00 702.07L229.50 701.97L230.00 701.91L230.50 701.89L231.00 702.01L231.50 702.33L232.00 702.79L232.50 703.33L233.00 703.88L233.50 704.47L234.00 705.15L234.50 705.94L235.00 706.85L235.50 707.89L236.00 709.08L236.50 710.51L237.00 712.68L237.50 715.38L238.00 718.24L238.50 720.88L239.00 723.57L239.50 726.58L240.00 729.51L240.50 731.92L241.00 733.40L241.50 733.57L242.00 732.59L242.50 730.98L243.00 729.23L243.50 727.87L244.00 726.87L244.50 725.91L245.00 725.03L245.50 724.27L246.00 723.65L246.50 723.20L247.00 722.86L247.50 722.56L248.00 722.31L248.50 722.08L249.00 721.86L249.50 721.62L250.00 721.36L250.50 721.02L251.00 720.62L251.50 720.25L252.00 719.96L252.50 719.85L253.00 720.24L253.50 721.22L254.00 722.52L254.50 723.85L255.00 725.54L255.50 727.78L256.00 730.02L256.50 731.75L257.00 732.44L257.50 732.11L258.00 731.26L258.50 730.12L259.00 728.91L259.50 727.84L260.00 726.93L260.50 726.05L261.00 725.16L261.50 724.25L262.00 723.32L262.50 722.33L263.00 721.21L263.50 719.94L264.00 718.59L264.50 717.24L265.00 715.98L265.50 714.87L266.00 714.00L266.50 713.42L267.00 713.00L267.50 712.65L268.00 712.36L268.50 712.09L269.00 711.81L269.50 711.50L270.00 711.11L270.50 710.59L271.00 709.92L271.50 709.16L272.00 708.41L272.50 707.73L273.00 707.19L273.50 706.86L274.00 706.90L274.50 707.78L275.00 709.19L275.50 711.14L276.00 714.54L276.50 717.89L277.00 719.39L277.50 718.65L278.00 717.05L278.50 715.51L279.00 714.50L279.50 713.55L280.00 712.77L280.50 712.28L281.00 711.99L281.50 711.71L282.00 711.46L282.50 711.23L283.00 711.03L283.50 710.85L284.00 710.70L284.50 710.57L285.00 710.47L285.50 710.41L286.00 710.37L286.50 710.38L287.00 710.58L287.50 710.97L288.00 711.48L288.50 712.08L289.00 712.70L289.50 713.31L290.00 713.85L290.50 714.26L291.00 714.50L291.50 714.54L292.00 714.48L292.50 714.40L293.00 714.34L293.50 714.37L294.00 714.58L294.50 714.92L295.00 715.33L295.50 715.92L296.00 716.80L296.50 717.87L297.00 719.04L297.50 720.22L298.00 721.43L298.50 722.77L299.00 724.19L299.50 725.68L300.00 727.20L300.50 728.82L301.00 730.56L301.50 732.33L302.00 734.07L302.50 735.69L303.00 737.40L303.50 739.25L304.00 740.95L304.50 742.20L305.00 742.68L305.50 742.09L306.00 740.60L306.50 738.60L307.00 736.49L307.50 734.66L308.00 733.06L308.50 731.42L309.00 729.83L309.50 728.38L310.00 727.14L310.50 726.08L311.00 725.08L311.50 724.19L312.00 723.43L312.50 722.83L313.00 722.32L313.50 721.84L314.00 721.43L314.50 721.14L315.00 721.01L315.50 720.97L316.00 720.94L316.50 720.91L317.00 720.89L317.50 720.86L318.00 720.84L318.50 720.82L319.00 720.81L319.50 720.79L320.00 720.78L320.50 720.77L321.00 720.76L321.50 720.75L322.00 720.75L322.50 720.74L323.00 720.74L323.50 720.73L324.00 720.73L324.50 720.72L325.00 720.72L325.50 720.71L326.00 720.71L326.50 720.70L327.00 720.70L327.50 720.69L328.00 720.68L328.50 720.68L329.00 720.67L329.50 720.67L330.00 720.66L330.50 720.64L331.00 720.59L331.50 720.51L332.00 720.41L332.50 720.29L333.00 720.15L333.50 719.99L334.00 719.82L334.50 719.64L335.00 719.44L335.50 719.24L336.00 719.04L336.50 718.83L337.00 718.62L337.50 718.42L338.00 718.22L338.50 718.03L339.00 717.84L339.50 717.67L340.00 717.52L340.50 717.36L341.00 717.20L341.50 717.03L342.00 716.86L342.50 716.68L343.00 716.50L343.50 716.31L344.00 716.13L344.50 715.95L345.00 715.77L345.50 715.59L346.00 715.42L346.50 715.25L347.00 715.10L347.50 714.95L348.00 714.81L348.50 714.69L349.00 714.58L349.50 714.48L350.00 714.40L350.50 714.34L351.00 714.29L351.50 714.27L352.00 714.27L352.50 714.28L353.00 714.30L353.50 714.34L354.00 714.40L354.50 714.46L355.00 714.53L355.50 714.61L356.00 714.70L356.50 714.79L357.00 714.89L357.50 714.99L358.00 715.09L358.50 715.18L359.00 715.28L359.50 715.37L360.00 715.46L360.50 715.54L361.00 715.61L361.50 715.67L362.00 715.72L362.50 715.77L363.00 715.82L363.50 715.87L364.00 715.92L364.50 715.97L365.00 716.02L365.50 716.07L366.00 716.11L366.50 716.16L367.00 716.20L367.50 716.24L368.00 716.27L368.50 716.30L369.00 716.32L369.50 716.34L370.00 716.34L370.50 716.35L371.00 716.34L371.50 716.32L372.00 716.29L372.50 716.25L373.00 716.20L373.50 716.14L374.00 716.07L374.50 715.98L375.00 715.89L375.50 715.79L376.00 715.67L376.50 715.54L377.00 715.40L377.50 715.24L378.00 715.06L378.50 714.86L379.00 714.63L379.50 714.36L380.00 714.04L380.50 713.66L381.00 713.24L381.50 712.77L382.00 712.25L382.50 711.69L383.00 711.09L383.50 710.41L384.00 709.63L384.50 708.73L385.00 707.70L385.50 706.50L386.00 705.11L386.50 703.50L387.00 701.63L387.50 699.47L388.00 696.96L388.50 694.07L389.00 690.81L389.50 687.17L390.00 683.12L390.50 678.64L391.00 673.69L391.50 668.28L392.00 662.37L392.50 655.98L393.00 649.08L393.50 641.70L394.00 633.83L394.50 625.50L395.00 616.74L395.50 607.58L396.00 598.07L396.50 588.26L397.00 578.21L397.50 568.01L398.00 557.72L398.50 547.43L399.00 537.24L399.50 527.23L400.00 517.52L400.50 508.20L401.00 499.37L401.50 491.14L402.00 483.59L402.50 476.82L403.00 470.90L403.50 465.92L404.00 461.94L404.50 459.00L405.00 457.14L405.50 456.39L406.00 456.73L406.50 458.07L407.00 460.41L407.50 463.70L408.00 467.93L408.50 473.03L409.00 478.95L409.50 485.62L410.00 492.98L410.50 500.94L411.00 509.43L411.50 518.32L412.00 527.03L412.50 535.35L413.00 543.31L413.50 550.92L414.00 558.19L414.50 565.15L415.00 571.81L415.50 578.17L416.00 584.25L416.50 590.07L417.00 595.64L417.50 600.96L418.00 606.04L418.50 610.91L419.00 615.56L419.50 620.00L420.00 624.26L420.50 628.32L421.00 632.21L421.50 635.93L422.00 639.48L422.50 642.88L423.00 646.13L423.50 649.24L424.00 652.21L424.50 655.05L425.00 657.76L425.50 660.36L426.00 662.83L426.50 665.20L427.00 667.45L427.50 669.61L428.00 671.66L428.50 673.61L429.00 675.48L429.50 677.25L430.00 678.93L430.50 680.53L431.00 682.04L431.50 683.47L432.00 684.82L432.50 686.09L433.00 687.28L433.50 688.40L434.00 689.44L434.50 690.42L435.00 691.31L435.50 692.14L436.00 692.91L436.50 693.60L437.00 694.23L437.50 694.79L438.00 695.30L438.50 695.75L439.00 696.14L439.50 696.47L440.00 696.76L440.50 697.01L441.00 697.21L441.50 697.37L442.00 697.51L442.50 697.61L443.00 697.70L443.50 697.76L444.00 697.82L444.50 697.87L445.00 697.91L445.50 697.97L446.00 698.03L446.50 698.11L447.00 698.20L447.50 698.33L448.00 698.47L448.50 698.65L449.00 698.87L449.50 699.12L450.00 699.41L450.50 699.73L451.00 700.09L451.50 700.49L452.00 700.93L452.50 701.39L453.00 701.89L453.50 702.42L454.00 702.97L454.50 703.55L455.00 704.15L455.50 704.76L456.00 705.38L456.50 706.02L457.00 706.66L457.50 707.29L458.00 707.90L458.50 708.47L459.00 709.02L459.50 709.54L460.00 710.03L460.50 710.50L461.00 710.94L461.50 711.37L462.00 711.77L462.50 712.15L463.00 712.51L463.50 712.86L464.00 713.19L464.50 713.50L465.00 713.79L465.50 714.08L466.00 714.35L466.50 714.60L467.00 714.84L467.50 715.08L468.00 715.30L468.50 715.51L469.00 715.71L469.50 715.90L470.00 716.08L470.50 716.25L471.00 716.41L471.50 716.57L472.00 716.72L472.50 716.86L473.00 717.00L473.50 717.13L474.00 717.25L474.50 717.37L475.00 717.48L475.50 717.59L476.00 717.69L476.50 717.79L477.00 717.89L477.50 717.98L478.00 718.06L478.50 718.15L479.00 718.23L479.50 718.30L480.00 718.37L480.50 718.44L481.00 718.51L481.50 718.58L482.00 718.64L482.50 718.70L483.00 718.76L483.50 718.81L484.00 718.86L484.50 718.92L485.00 718.97L485.50 719.01L486.00 719.06L486.50 719.11L487.00 719.15L487.50 719.19L488.00 719.23L488.50 719.27L489.00 719.31L489.50 719.34L490.00 719.38L490.50 719.41L491.00 719.45L491.50 719.48L492.00 719.51L492.50 719.54L493.00 719.57L493.50 719.59L494.00 719.62L494.50 719.65L495.00 719.67L495.50 719.70L496.00 719.72L496.50 719.74L497.00 719.77L497.50 719.79L498.00 719.81L498.50 719.83L499.00 719.85L499.50 719.87L500.00 719.89L500.50 719.91L501.00 719.93L501.50 719.95L502.00 719.97L502.50 719.99L503.00 720.01L503.50 720.03L504.00 720.05L504.50 720.06L505.00 720.08L505.50 720.10L506.00 720.12L506.50 720.14L507.00 720.15L507.50 720.17L508.00 720.19L508.50 720.21L509.00 720.23L509.50 720.24L510.00 720.26L510.50 720.28L511.00 720.30L511.50 720.32L512.00 720.34L512.50 720.35L513.00 720.37L513.50 720.39L514.00 720.41L514.50 720.43L515.00 720.45L515.50 720.47L516.00 720.49L516.50 720.51L517.00 720.53L517.50 720.55L518.00 720.58L518.50 720.60L519.00 720.62L519.50 720.64L520.00 720.67L520.50 720.69L521.00 720.71L521.50 720.74L522.00 720.76L522.50 720.79L523.00 720.83L523.50 720.88L524.00 720.94L524.50 721.01L525.00 721.09L525.50 721.17L526.00 721.26L526.50 721.36L527.00 721.46L527.50 721.56L528.00 721.67L528.50 721.78L529.00 721.90L529.50 722.01L530.00 722.13L530.50 722.25L531.00 722.37L531.50 722.48L532.00 722.60L532.50 722.71L533.00 722.82L533.50 722.92L534.00 723.02L534.50 723.12L535.00 723.21L535.50 723.29L536.00 723.37L536.50 723.44L537.00 723.52L537.50 723.60L538.00 723.68L538.50 723.76L539.00 723.84L539.50 723.92L540.00 724.00L540.50 724.07L541.00 724.15L541.50 724.21L542.00 724.28L542.50 724.34L543.00 724.39L543.50 724.43L544.00 724.47L544.50 724.50L545.00 724.51L545.50 724.52L546.00 724.52L546.50 724.51L547.00 724.49L547.50 724.47L548.00 724.43L548.50 724.39L549.00 724.35L549.50 724.30L550.00 724.25L550.50 724.19L551.00 724.13L551.50 724.07L552.00 724.00L552.50 723.94L553.00 723.87L553.50 723.80L554.00 723.74L554.50 723.67L555.00 723.61L555.50 723.55L556.00 723.49L556.50 723.43L557.00 723.38L557.50 723.33L558.00 723.29L558.50 723.25L559.00 723.22L559.50 723.20L560.00 723.18L560.50 723.17L561.00 723.16L561.50 723.15L562.00 723.14L562.50 723.13L563.00 723.12L563.50 723.11L564.00 723.10L564.50 723.09L565.00 723.08L565.50 723.07L566.00 723.06L566.50 723.05L567.00 723.05L567.50 723.04L568.00 723.03L568.50 723.02L569.00 723.02L569.50 723.01L570.00 723.00L570.50 723.00L571.00 722.99L571.50 722.98L572.00 722.98L572.50 722.98L573.00 722.97L573.50 722.97L574.00 722.96L574.50 722.96L575.00 722.96L575.50 722.95L576.00 722.95L576.50 722.95L577.00 722.95L577.50 722.95L578.00 722.95L578.50 722.95L579.00 722.95L579.50 722.95L580.00 722.95L580.50 722.95L581.00 722.95L581.50 722.95L582.00 722.96L582.50 722.96L583.00 722.96L583.50 722.96L584.00 722.96L584.50 722.96L585.00 722.97L585.50 722.97L586.00 722.97L586.50 722.97L587.00 722.98L587.50 722.98L588.00 722.98L588.50 722.98L589.00 722.98L589.50 722.99L590.00 722.99L590.50 722.99L591.00 723.00L591.50 723.00L592.00 723.00L592.50 723.00L593.00 723.01L593.50 723.01L594.00 723.01L594.50 723.01L595.00 723.02L595.50 723.02L596.00 723.02L596.50 723.03L597.00 723.03L597.50 723.03L598.00 723.03L598.50 723.04L599.00 723.04L599.50 723.04L600.00 723.05L600.50 723.05L601.00 723.05L601.50 723.05L602.00 723.06L602.50 723.06L603.00 723.06L603.50 723.07L604.00 723.07L604.50 723.07L605.00 723.07L605.50 723.08L606.00 723.08L606.50 723.08L607.00 723.08L607.50 723.09L608.00 723.09L608.50 723.09L609.00 723.09L609.50 723.10L610.00 723.10L610.50 723.10L611.00 723.10L611.50 723.11L612.00 723.11L612.50 723.11L613.00 723.11L613.50 723.11L614.00 723.12L614.50 723.12L615.00 723.12L615.50 723.12L616.00 723.12L616.50 723.12L617.00 723.12L617.50 723.13L618.00 723.13L618.50 723.13L619.00 723.13L619.50 723.13L620.00 723.13L620.50 723.13L621.00 723.13L621.50 723.13L622.00 723.13L622.50 723.13L623.00 723.13L623.50 723.14L624.00 723.14L624.50 723.14L625.00 723.14L625.50 723.14L626.00 723.14L626.50 723.14L627.00 723.14L627.50 723.14L628.00 723.14L628.50 723.14L629.00 723.14L629.50 723.14L630.00 723.14L630.50 723.14L631.00 723.14L631.50 723.14L632.00 723.14L632.50 723.14L633.00 723.15L633.50 723.15L634.00 723.15L634.50 723.15L635.00 723.15L635.50 723.15L636.00 723.15L636.50 723.15L637.00 723.15L637.50 723.15L638.00 723.15L638.50 723.15L639.00 723.15L639.50 723.15L640.00 723.15L640.50 723.15L641.00 723.15L641.50 723.15L642.00 723.15L642.50 723.15L643.00 723.15L643.50 723.15L644.00 723.15L644.50 723.15L645.00 723.15L645.50 723.15L646.00 723.15L646.50 723.15L647.00 723.15L647.50 723.15L648.00 723.15L648.50 723.15L649.00 723.15L649.50 723.15L650.00 723.15L650.50 723.14L651.00 723.14L651.50 723.14L652.00 723.14L652.50 723.14L653.00 723.14L653.50 723.14L654.00 723.14L654.50 723.14L655.00 723.14L655.50 723.14L656.00 723.14L656.50 723.14L657.00 723.14L657.50 723.14L658.00 723.14L658.50 723.13L659.00 723.13L659.50 723.13L660.00 723.13L660.50 723.13L661.00 723.13L661.50 723.13L662.00 723.13L662.50 723.13L663.00 723.13L663.50 723.12L664.00 723.12L664.50 723.12L665.00 723.12L665.50 723.12L666.00 723.12L666.50 723.12L667.00 723.12L667.50 723.11L668.00 723.11L668.50 723.11L669.00 723.11L669.50 723.11L670.00 723.11L670.50 723.10L671.00 723.10L671.50 723.10L672.00 723.10L672.50 723.10L673.00 723.10L673.50 723.09L674.00 723.09L674.50 723.09L675.00 723.08L675.50 723.06L676.00 723.04L676.50 723.01L677.00 722.97L677.50 722.92L678.00 722.87L678.50 722.81L679.00 722.75L679.50 722.69L680.00 722.62L680.50 722.55L681.00 722.48L681.50 722.40L682.00 722.33L682.50 722.25L683.00 722.18L683.50 722.11L684.00 722.03L684.50 721.97L685.00 721.90L685.50 721.83L686.00 721.75L686.50 721.66L687.00 721.57L687.50 721.47L688.00 721.37L688.50 721.27L689.00 721.17L689.50 721.07L690.00 720.98L690.50 720.88L691.00 720.80L691.50 720.72L692.00 720.65L692.50 720.60L693.00 720.55L693.50 720.52L694.00 720.51L694.50 720.51L695.00 720.52L695.50 720.54L696.00 720.58L696.50 720.62L697.00 720.67L697.50 720.73L698.00 720.79L698.50 720.86L699.00 720.93L699.50 721.00L700.00 721.08L700.50 721.15L701.00 721.23L701.50 721.30L702.00 721.38L702.50 721.45L703.00 721.51L703.50 721.57L704.00 721.63L704.50 721.67L705.00 721.71L705.50 721.75L706.00 721.78L706.50 721.81L707.00 721.84L707.50 721.88L708.00 721.91L708.50 721.94L709.00 721.97L709.50 722.00L710.00 722.02L710.50 722.05L711.00 722.08L711.50 722.11L712.00 722.13L712.50 722.16L713.00 722.18L713.50 722.21L714.00 722.23L714.50 722.26L715.00 722.28L715.50 722.31L716.00 722.33L716.50 722.35L717.00 722.37L717.50 722.39L718.00 722.42L718.50 722.44L719.00 722.46L719.50 722.48L720.00 722.50L720.50 722.52L721.00 722.54L721.50 722.56L722.00 722.58L722.50 722.60L723.00 722.62L723.50 722.64L724.00 722.66L724.50 722.68L725.00 722.69L725.50 722.71L726.00 722.73L726.50 722.75L727.00 722.77L727.50 722.79L728.00 722.81L728.50 722.83L729.00 722.85L729.50 722.86L730.00 722.88L730.50 722.90L731.00 722.92L731.50 722.94L732.00 722.96L732.50 722.98L733.00 723.00L733.50 723.02L734.00 723.04L734.50 723.06L735.00 723.08L735.50 723.11L736.00 723.13L736.50 723.15L737.00 723.17L737.50 723.19L738.00 723.21L738.50 723.23L739.00 723.25L739.50 723.27L740.00 723.30L740.50 723.32L741.00 723.34L741.50 723.36L742.00 723.38L742.50 723.40L743.00 723.42L743.50 723.43L744.00 723.45L744.50 723.47L745.00 723.49L745.50 723.51L746.00 723.53L746.50 723.55L747.00 723.57L747.50 723.59L748.00 723.61L748.50 723.63L749.00 723.64L749.50 723.66L750.00 723.68L750.50 723.70L751.00 723.72L751.50 723.74L752.00 723.76L752.50 723.77L753.00 723.79L753.50 723.81L754.00 723.83L754.50 723.85L755.00 723.87L755.50 723.88L756.00 723.90L756.50 723.92L757.00 723.94L757.50 723.96L758.00 723.98L758.50 724.00L759.00 724.02L759.50 724.03L760.00 724.05L760.50 724.07L761.00 724.09L761.50 724.11L762.00 724.13L762.50 724.15L763.00 724.17L763.50 724.19L764.00 724.21L764.50 724.23L765.00 724.25L765.50 724.27L766.00 724.29L766.50 724.31L767.00 724.33L767.50 724.35L768.00 724.37L768.50 724.39L769.00 724.42L769.50 724.44L770.00 724.46L770.50 724.48L771.00 724.50L771.50 724.53L772.00 724.55L772.50 724.57L773.00 724.59L773.50 724.62L774.00 724.64L774.50 724.66L775.00 724.69L775.50 724.71L776.00 724.74L776.50 724.76L777.00 724.79L777.50 724.81L778.00 724.84L778.50 724.86L779.00 724.89L779.50 724.92L780.00 724.94L780.50 724.97L781.00 724.99L781.50 725.02L782.00 725.04L782.50 725.06L783.00 725.08L783.50 725.10L784.00 725.13L784.50 725.15L785.00 725.18L785.50 725.21L786.00 725.25L786.50 725.28L787.00 725.32L787.50 725.37L788.00 725.42L788.50 725.48L789.00 725.55L789.50 725.71L790.00 725.98L790.50 726.23L791.00 726.35L791.50 726.27L792.00 726.08L792.50 725.81L793.00 725.21L793.50 724.21L794.00 723.65L794.50 723.61L795.00 723.58L795.50 723.55L796.00 723.52L796.50 723.50L797.00 723.49L797.50 723.47L798.00 723.46L798.50 723.46L799.00 723.45L799.50 723.45L800.00 723.45L800.50 723.45L801.00 723.45L801.50 723.45L802.00 723.45L802.50 723.45L803.00 723.45L803.50 723.45L804.00 723.45L804.50 723.45L805.00 723.45L805.50 723.45L806.00 723.45L806.50 723.45L807.00 723.45L807.50 723.45L808.00 723.45L808.50 723.45L809.00 723.45L809.50 723.45L810.00 723.45L810.50 723.45L811.00 723.45L811.50 723.45L812.00 723.45L812.50 723.45L813.00 723.45L813.50 723.45L814.00 723.45L814.50 723.45L815.00 723.45L815.50 723.45L816.00 723.45L816.50 723.45L817.00 723.45L817.50 723.45L818.00 723.45L818.50 723.45L819.00 723.45L819.50 723.45L820.00 723.45L820.50 723.45L821.00 723.45L821.50 723.44L822.00 723.43L822.50 723.42L823.00 723.40L823.50 723.38L824.00 723.36L824.50 723.34L825.00 723.31L825.50 723.29L826.00 723.26L826.50 723.23L827.00 723.19L827.50 723.16L828.00 723.12L828.50 723.08L829.00 723.04L829.50 723.00L830.00 722.96L830.50 722.91L831.00 722.87L831.50 722.82L832.00 722.77L832.50 722.72L833.00 722.68L833.50 722.63L834.00 722.57L834.50 722.52L835.00 722.47L835.50 722.42L836.00 722.37L836.50 722.32L837.00 722.27L837.50 722.21L838.00 722.16L838.50 722.11L839.00 722.06L839.50 722.01L840.00 721.96L840.50 721.91L841.00 721.85L841.50 721.80L842.00 721.74L842.50 721.68L843.00 721.62L843.50 721.56L844.00 721.50L844.50 721.43L845.00 721.37L845.50 721.30L846.00 721.23L846.50 721.16L847.00 721.08L847.50 721.01L848.00 720.94L848.50 720.86L849.00 720.78L849.50 720.70L850.00 720.63L850.50 720.55L851.00 720.46L851.50 720.38L852.00 720.30L852.50 720.22L853.00 720.13L853.50 720.05L854.00 719.96L854.50 719.87L855.00 719.78L855.50 719.69L856.00 719.60L856.50 719.50L857.00 719.40L857.50 719.30L858.00 719.19L858.50 719.09L859.00 718.98L859.50 718.87L860.00 718.77L860.50 718.65L861.00 718.54L861.50 718.43L862.00 718.32L862.50 718.20L863.00 718.09L863.50 717.97L864.00 717.86L864.50 717.74L865.00 717.62L865.50 717.51L866.00 717.39L866.50 717.28L867.00 717.16L867.50 717.05L868.00 716.93L868.50 716.82L869.00 716.70L869.50 716.59L870.00 716.47L870.50 716.36L871.00 716.24L871.50 716.13L872.00 716.01L872.50 715.89L873.00 715.77L873.50 715.65L874.00 715.53L874.50 715.41L875.00 715.29L875.50 715.16L876.00 715.04L876.50 714.91L877.00 714.78L877.50 714.65L878.00 714.52L878.50 714.38L879.00 714.25L879.50 714.11L880.00 713.96L880.50 713.82L881.00 713.67L881.50 713.52L882.00 713.36L882.50 713.20L883.00 713.04L883.50 712.87L884.00 712.71L884.50 712.54L885.00 712.37L885.50 712.19L886.00 712.02L886.50 711.84L887.00 711.67L887.50 711.49L888.00 711.32L888.50 711.14L889.00 710.97L889.50 710.78L890.00 710.59L890.50 710.39L891.00 710.20L891.50 710.02L892.00 709.85L892.50 709.71L893.00 709.56L893.50 709.44L894.00 709.37L894.50 709.33L895.00 709.31L895.50 709.28L896.00 709.26L896.50 709.24L897.00 709.23L897.50 709.21L898.00 709.20L898.50 709.19L899.00 709.18L899.50 709.18L900.00 709.17L900.50 709.16L901.00 709.15L901.50 709.15L902.00 709.14L902.50 709.14L903.00 709.13L903.50 709.13L904.00 709.12L904.50 709.12L905.00 709.11L905.50 709.11L906.00 709.11L906.50 709.10L907.00 709.10L907.50 709.09L908.00 709.09L908.50 709.09L909.00 709.08L909.50 709.07L910.00 709.07L910.50 709.06L911.00 709.05L911.50 709.04L912.00 709.03L912.50 709.02L913.00 709.01L913.50 708.99L914.00 708.98L914.50 708.97L915.00 708.95L915.50 708.94L916.00 708.93L916.50 708.91L917.00 708.90L917.50 708.89L918.00 708.89L918.50 708.88L919.00 708.87L919.50 708.87L920.00 708.87L920.50 708.89L921.00 708.96L921.50 709.04L922.00 709.13L922.50 709.22L923.00 709.27L923.50 709.31L924.00 709.34L924.50 709.37L925.00 709.40L925.50 709.44L926.00 709.46L926.50 709.49L927.00 709.52L927.50 709.55L928.00 709.57L928.50 709.60L929.00 709.62L929.50 709.64L930.00 709.67L930.50 709.69L931.00 709.71L931.50 709.73L932.00 709.75L932.50 709.77L933.00 709.78L933.50 709.80L934.00 709.82L934.50 709.83L935.00 709.85L935.50 709.86L936.00 709.88L936.50 709.89L937.00 709.90L937.50 709.91L938.00 709.93L938.50 709.94L939.00 709.95L939.50 709.96L940.00 709.97L940.50 709.98L941.00 709.99L941.50 710.00L942.00 710.01L942.50 710.02L943.00 710.04L943.50 710.05L944.00 710.06L944.50 710.07L945.00 710.08L945.50 710.09L946.00 710.10L946.50 710.11L947.00 710.12L947.50 710.13L948.00 710.14L948.50 710.14L949.00 710.15L949.50 710.16L950.00 710.17L950.50 710.18L951.00 710.19L951.50 710.20L952.00 710.21L952.50 710.22L953.00 710.22L953.50 710.23L954.00 710.24L954.50 710.25L955.00 710.26L955.50 710.26L956.00 710.27L956.50 710.28L957.00 710.28L957.50 710.29L958.00 710.30L958.50 710.30L959.00 710.31L959.50 710.31L960.00 710.32L960.50 710.32L961.00 710.33L961.50 710.33L962.00 710.34L962.50 710.34L963.00 710.35L963.50 710.35L964.00 710.35L964.50 710.36L965.00 710.36L965.50 710.36L966.00 710.37L966.50 710.37L967.00 710.37L967.50 710.37L968.00 710.37L968.50 710.37L969.00 710.37L969.50 710.37"/>
</g>
<g stroke="#000000" fill="none" stroke-linecap="butt">
<path stroke-width="3.7" d="M105.05 8 L103.9 423.8"/>
<path stroke-width="3.5" d="M102.1 422.55 L979.2 421.1"/>
<path stroke-width="3.4" d="M94.6 41.2 H104.5" />
<path stroke-width="3.4" d="M94.6 110.7 H104.5" />
<path stroke-width="3.4" d="M94.6 180.3 H104.5" />
<path stroke-width="3.4" d="M94.6 249.9 H104.5" />
<path stroke-width="3.4" d="M94.6 320.0 H104.5" />
<path stroke-width="3.4" d="M94.6 389.4 H104.5" />
<path stroke-width="3.8" d="M107.9 422.5 V430.9"/>
<path stroke-width="3.8" d="M253.3 422.3 V430.7"/>
<path stroke-width="3.8" d="M399.1 422.0 V430.4"/>
<path stroke-width="3.8" d="M544.3 421.8 V430.2"/>
<path stroke-width="3.8" d="M687.8 421.6 V430.0"/>
<path stroke-width="3.8" d="M833.7 421.3 V429.7"/>
<path stroke-width="3.8" d="M977.4 421.1 V429.5"/>
<path stroke-width="3.75" d="M105.1 443.3 V821.5"/>
<path stroke-width="3.5" d="M103.3 819.8 L978.2 818.2"/>
<path stroke-width="3.4" d="M96.0 445.0 H105" />
<path stroke-width="3.4" d="M96.0 513.5 H105" />
<path stroke-width="3.4" d="M96.0 582.1 H105" />
<path stroke-width="3.4" d="M96.0 650.6 H105" />
<path stroke-width="3.4" d="M96.0 719.0 H105" />
<path stroke-width="3.4" d="M96.0 787.4 H105" />
<path stroke-width="3.8" d="M106.6 819.8 V828.8"/>
<path stroke-width="3.8" d="M252.0 819.5 V828.5"/>
<path stroke-width="3.8" d="M397.8 819.3 V828.3"/>
<path stroke-width="3.8" d="M543.2 819.0 V828.0"/>
<path stroke-width="3.8" d="M686.6 818.8 V827.8"/>
<path stroke-width="3.8" d="M832.6 818.5 V827.5"/>
<path stroke-width="3.8" d="M976.4 818.2 V827.2"/>
</g>
<path d="M142.5 13.2 H188.8" stroke="#3252f0" stroke-width="1.7" fill="none"/>
<path d="M142.5 50.0 H188.8" stroke="#e0543e" stroke-width="1.7" fill="none"/>
<path d="M237.40 123.00 V171.60" stroke="#000" stroke-width="3.50" fill="none" stroke-linecap="butt"/><path d="M232.10 163.70 L237.40 172.55 L242.70 163.70" stroke="#000" stroke-width="4.20" fill="none" stroke-linecap="round" stroke-linejoin="miter"/>
<path d="M329.80 310.40 V359.40" stroke="#000" stroke-width="3.50" fill="none" stroke-linecap="butt"/><path d="M324.50 351.50 L329.80 360.35 L335.10 351.50" stroke="#000" stroke-width="4.20" fill="none" stroke-linecap="round" stroke-linejoin="miter"/>
<path d="M404.80 222.80 V271.80" stroke="#000" stroke-width="3.50" fill="none" stroke-linecap="butt"/><path d="M399.50 263.90 L404.80 272.75 L410.10 263.90" stroke="#000" stroke-width="4.20" fill="none" stroke-linecap="round" stroke-linejoin="miter"/>
<path d="M485.20 313.70 V362.70" stroke="#000" stroke-width="3.50" fill="none" stroke-linecap="butt"/><path d="M479.90 354.80 L485.20 363.65 L490.50 354.80" stroke="#000" stroke-width="4.20" fill="none" stroke-linecap="round" stroke-linejoin="miter"/>
<path d="M522.60 179.30 V227.70" stroke="#000" stroke-width="3.50" fill="none" stroke-linecap="butt"/><path d="M517.30 219.80 L522.60 228.65 L527.90 219.80" stroke="#000" stroke-width="4.20" fill="none" stroke-linecap="round" stroke-linejoin="miter"/>
<path d="M559.30 179.30 V228.20" stroke="#000" stroke-width="3.50" fill="none" stroke-linecap="butt"/><path d="M554.00 220.30 L559.30 229.15 L564.60 220.30" stroke="#000" stroke-width="4.20" fill="none" stroke-linecap="round" stroke-linejoin="miter"/>
<path d="M659.20 313.70 V362.50" stroke="#000" stroke-width="3.50" fill="none" stroke-linecap="butt"/><path d="M653.90 354.60 L659.20 363.45 L664.50 354.60" stroke="#000" stroke-width="4.20" fill="none" stroke-linecap="round" stroke-linejoin="miter"/>
<path d="M689.70 17.20 V41.90" stroke="#000" stroke-width="3.50" fill="none" stroke-linecap="butt"/><path d="M684.40 34.00 L689.70 42.85 L695.00 34.00" stroke="#000" stroke-width="4.20" fill="none" stroke-linecap="round" stroke-linejoin="miter"/>
<path d="M698.65 17.20 V41.90" stroke="#000" stroke-width="3.50" fill="none" stroke-linecap="butt"/><path d="M693.35 34.00 L698.65 42.85 L703.95 34.00" stroke="#000" stroke-width="4.20" fill="none" stroke-linecap="round" stroke-linejoin="miter"/>
<path d="M782.50 201.70 V250.80" stroke="#000" stroke-width="3.50" fill="none" stroke-linecap="butt"/><path d="M777.20 242.90 L782.50 251.75 L787.80 242.90" stroke="#000" stroke-width="4.20" fill="none" stroke-linecap="round" stroke-linejoin="miter"/>
<path d="M894.80 196.50 V245.50" stroke="#000" stroke-width="3.50" fill="none" stroke-linecap="butt"/><path d="M889.50 237.60 L894.80 246.45 L900.10 237.60" stroke="#000" stroke-width="4.20" fill="none" stroke-linecap="round" stroke-linejoin="miter"/>
<g font-family="Liberation Sans, sans-serif" fill="#000" stroke="#000" stroke-width="0.5">
<text x="201.3" y="21.6" font-size="23.55" text-anchor="start" >60-min incubation without enzyme</text>
<text x="201.3" y="56.8" font-size="23.55" text-anchor="start" >60-min incubation with enzyme</text>
<text x="170.6" y="115.4" font-size="23.50" text-anchor="start" >CDP-choline</text>
<text x="288.6" y="302.8" font-size="23.50" text-anchor="start" >5´-CMP</text>
<text x="354.7" y="218.0" font-size="23.50" text-anchor="start" >cADPR</text>
<text x="429.0" y="301.6" font-size="23.50" text-anchor="start" >5´-AMP</text>
<text x="413.6" y="171.9" font-size="23.50" text-anchor="start" >2´,3´-cAMP</text>
<text x="544.6" y="171.9" font-size="23.50" text-anchor="start" >ADP-ribose</text>
<text x="591.0" y="309.0" font-size="23.50" text-anchor="start" >3´-AMP</text>
<text x="624.6" y="21.8" font-size="23.50" text-anchor="start" >Ap2A</text>
<text x="705.4" y="21.8" font-size="23.50" text-anchor="start" >pRibAMP</text>
<text x="756.6" y="192.0" font-size="23.50" text-anchor="start" >ADP</text>
<text x="869.4" y="192.0" font-size="23.50" text-anchor="start" >ATP</text>
<text x="85.7" y="122.5" font-size="30.60" text-anchor="end" >0.4</text>
<text x="85.4" y="261.0" font-size="30.60" text-anchor="end" >0.2</text>
<text x="83.9" y="402.1" font-size="30.60" text-anchor="end" >0</text>
<text x="83.9" y="731.3" font-size="30.60" text-anchor="end" >0</text>
<text x="28.4" y="456.6" font-size="30.60" text-anchor="start" >0.02</text>
<text x="28.4" y="590.1" font-size="30.60" text-anchor="start" >0.0</text>
<path transform="translate(71.20 590.10) scale(0.01494 -0.01494)" d="M565 0V1237L230 1010V1180L580 1409H746V0Z" stroke-width="33.5" stroke-linejoin="miter"/>
<text x="107.0" y="865.5" font-size="30.60" text-anchor="middle" >0</text>
<text x="252.4" y="865.5" font-size="30.60" text-anchor="middle" >2</text>
<text x="398.2" y="865.5" font-size="30.60" text-anchor="middle" >4</text>
<text x="542.8" y="865.5" font-size="30.60" text-anchor="middle" >6</text>
<text x="687.0" y="865.5" font-size="30.60" text-anchor="middle" >8</text>
<path transform="translate(817.10 865.50) scale(0.01494 -0.01494)" d="M565 0V1237L230 1010V1180L580 1409H746V0Z" stroke-width="33.5" stroke-linejoin="miter"/>
<text x="833.4" y="865.5" font-size="30.60" text-anchor="start" >0</text>
<path transform="translate(962.50 865.50) scale(0.01494 -0.01494)" d="M565 0V1237L230 1010V1180L580 1409H746V0Z" stroke-width="33.5" stroke-linejoin="miter"/>
<text x="978.8" y="865.5" font-size="30.60" text-anchor="start" >2</text>
<text x="412.4" y="907.6" font-size="30.20" text-anchor="start" >Retention time (min)</text>
<text transform="translate(7.1 326.5) scale(0.94 1)" font-size="35" font-style="italic">A</text><text x="28.4" y="335.4" font-size="22.4">260</text>
<text transform="translate(7.1 668.7) scale(0.94 1)" font-size="35" font-style="italic">A</text><text x="28.35" y="676.9" font-size="22.4">3</text><text x="53.3" y="676.9" font-size="22.4">0</text>
<path transform="translate(40.90 676.90) scale(0.01094 -0.01094)" d="M565 0V1237L230 1010V1180L580 1409H746V0Z" stroke-width="45.7" stroke-linejoin="miter"/>
</g>
</svg>
</body>
</html>
